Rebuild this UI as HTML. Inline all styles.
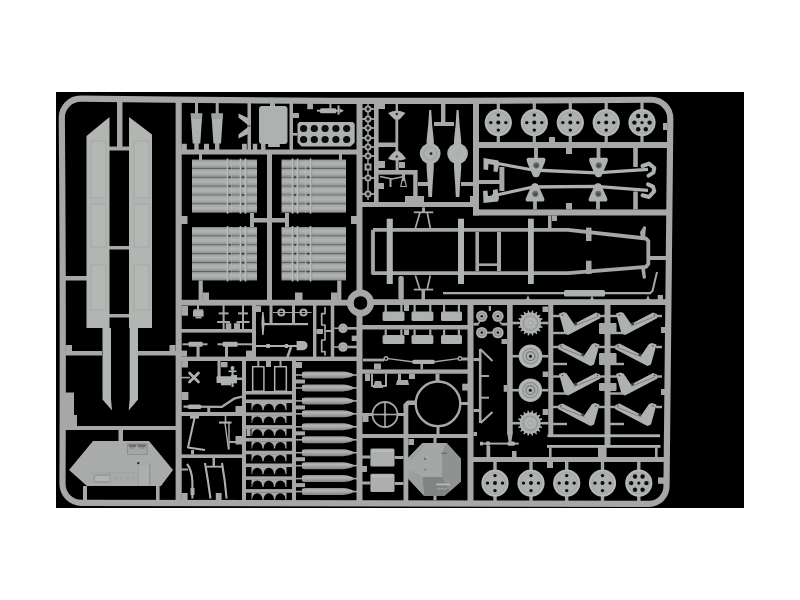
<!DOCTYPE html>
<html><head><meta charset="utf-8"><title>sprue</title>
<style>html,body{margin:0;padding:0;background:#fff;overflow:hidden}svg{display:block}</style>
</head><body>
<svg width="800" height="600" viewBox="0 0 800 600">
<defs>
<linearGradient id="tg" x1="0" y1="0" x2="0" y2="1">
<stop offset="0" stop-color="#7f8382"/><stop offset="0.18" stop-color="#a4a9a7"/><stop offset="0.42" stop-color="#b0b5b3"/><stop offset="0.66" stop-color="#a8adab"/><stop offset="0.88" stop-color="#929695"/><stop offset="1" stop-color="#7b7f7e"/>
</linearGradient>
<linearGradient id="sg0" gradientUnits="userSpaceOnUse" x1="0" y1="371.50" x2="0" y2="378.50"><stop offset="0" stop-color="#969898"/><stop offset="0.35" stop-color="#b4b6b6"/><stop offset="1" stop-color="#838585"/></linearGradient><linearGradient id="sg1" gradientUnits="userSpaceOnUse" x1="0" y1="384.45" x2="0" y2="391.45"><stop offset="0" stop-color="#969898"/><stop offset="0.35" stop-color="#b4b6b6"/><stop offset="1" stop-color="#838585"/></linearGradient><linearGradient id="sg2" gradientUnits="userSpaceOnUse" x1="0" y1="397.40" x2="0" y2="404.40"><stop offset="0" stop-color="#969898"/><stop offset="0.35" stop-color="#b4b6b6"/><stop offset="1" stop-color="#838585"/></linearGradient><linearGradient id="sg3" gradientUnits="userSpaceOnUse" x1="0" y1="410.35" x2="0" y2="417.35"><stop offset="0" stop-color="#969898"/><stop offset="0.35" stop-color="#b4b6b6"/><stop offset="1" stop-color="#838585"/></linearGradient><linearGradient id="sg4" gradientUnits="userSpaceOnUse" x1="0" y1="423.30" x2="0" y2="430.30"><stop offset="0" stop-color="#969898"/><stop offset="0.35" stop-color="#b4b6b6"/><stop offset="1" stop-color="#838585"/></linearGradient><linearGradient id="sg5" gradientUnits="userSpaceOnUse" x1="0" y1="436.25" x2="0" y2="443.25"><stop offset="0" stop-color="#969898"/><stop offset="0.35" stop-color="#b4b6b6"/><stop offset="1" stop-color="#838585"/></linearGradient><linearGradient id="sg6" gradientUnits="userSpaceOnUse" x1="0" y1="449.20" x2="0" y2="456.20"><stop offset="0" stop-color="#969898"/><stop offset="0.35" stop-color="#b4b6b6"/><stop offset="1" stop-color="#838585"/></linearGradient><linearGradient id="sg7" gradientUnits="userSpaceOnUse" x1="0" y1="462.15" x2="0" y2="469.15"><stop offset="0" stop-color="#969898"/><stop offset="0.35" stop-color="#b4b6b6"/><stop offset="1" stop-color="#838585"/></linearGradient><linearGradient id="sg8" gradientUnits="userSpaceOnUse" x1="0" y1="475.10" x2="0" y2="482.10"><stop offset="0" stop-color="#969898"/><stop offset="0.35" stop-color="#b4b6b6"/><stop offset="1" stop-color="#838585"/></linearGradient><linearGradient id="sg9" gradientUnits="userSpaceOnUse" x1="0" y1="488.05" x2="0" y2="495.05"><stop offset="0" stop-color="#969898"/><stop offset="0.35" stop-color="#b4b6b6"/><stop offset="1" stop-color="#838585"/></linearGradient>
<filter id="soft" x="-2%" y="-2%" width="104%" height="104%"><feGaussianBlur stdDeviation="0.65"/></filter>
</defs>
<rect x="0" y="0" width="800" height="600" fill="#fff"/>
<g filter="url(#soft)">
<rect x="56.00" y="92.00" width="688.00" height="416.00" fill="#000"/>
<path d="M61.8 117.7 A19 19 0 0 1 80.8 98.7 Q366 102.3 651 99.75 A19 19 0 0 1 670.3 119 L666.5 486 A17.5 17.5 0 0 1 649 503.8 L81.5 502.9 A19 19 0 0 1 62.5 484 Q63.3 300 61.8 117.7 Z" fill="none" stroke="#a6a8a7" stroke-width="6.2"/>
<rect x="175.60" y="100.00" width="6.10" height="402.00" fill="#a6a8a7"/>
<rect x="356.50" y="100.00" width="6.00" height="402.00" fill="#a6a8a7"/>
<rect x="473.00" y="100.00" width="6.00" height="115.50" fill="#a6a8a7"/>
<rect x="181.00" y="149.50" width="176.00" height="5.00" fill="#a6a8a7"/>
<rect x="181.00" y="299.80" width="167.00" height="5.80" fill="#a6a8a7"/>
<rect x="372.00" y="299.20" width="295.00" height="5.80" fill="#a6a8a7"/>
<rect x="479.00" y="142.00" width="188.00" height="6.00" fill="#a6a8a7"/>
<rect x="473.00" y="209.40" width="194.00" height="6.10" fill="#a6a8a7"/>
<rect x="362.00" y="202.00" width="112.00" height="5.00" fill="#a6a8a7"/>
<rect x="65.00" y="426.00" width="111.00" height="4.00" fill="#a6a8a7"/>
<rect x="267.00" y="154.00" width="5.00" height="146.00" fill="#a6a8a7"/>
<rect x="250.00" y="218.00" width="39.00" height="4.50" fill="#a6a8a7"/>
<rect x="467.50" y="305.00" width="6.00" height="197.00" fill="#a6a8a7"/>
<rect x="507.10" y="305.00" width="5.60" height="129.00" fill="#a6a8a7"/>
<rect x="548.30" y="305.00" width="5.00" height="132.00" fill="#a6a8a7"/>
<rect x="604.50" y="305.00" width="6.00" height="142.00" fill="#a6a8a7"/>
<rect x="473.00" y="457.00" width="194.00" height="5.00" fill="#a6a8a7"/>
<rect x="362.00" y="325.00" width="106.00" height="4.50" fill="#a6a8a7"/>
<rect x="362.00" y="369.40" width="106.00" height="4.35" fill="#a6a8a7"/>
<rect x="362.00" y="434.00" width="106.00" height="4.00" fill="#a6a8a7"/>
<rect x="403.50" y="404.00" width="4.80" height="98.00" fill="#a6a8a7"/>
<rect x="181.00" y="356.60" width="176.00" height="4.40" fill="#a6a8a7"/>
<rect x="181.00" y="329.00" width="71.00" height="3.60" fill="#a6a8a7"/>
<rect x="252.00" y="305.00" width="4.00" height="52.00" fill="#a6a8a7"/>
<rect x="313.00" y="305.00" width="3.40" height="52.00" fill="#a6a8a7"/>
<rect x="330.75" y="305.00" width="3.50" height="52.00" fill="#a6a8a7"/>
<rect x="242.00" y="361.00" width="4.00" height="141.00" fill="#a6a8a7"/>
<rect x="292.00" y="361.00" width="4.00" height="141.00" fill="#a6a8a7"/>
<rect x="181.00" y="412.00" width="61.00" height="4.00" fill="#a6a8a7"/>
<rect x="181.00" y="454.40" width="61.00" height="3.60" fill="#a6a8a7"/>
<rect x="246.00" y="391.00" width="46.00" height="3.50" fill="#a6a8a7"/>
<circle cx="360.50" cy="303.00" r="10.10" fill="none" stroke="#a6a8a7" stroke-width="6.8"/>
<rect x="117.00" y="102.00" width="5.50" height="46.00" fill="#a6a8a7"/>
<rect x="109.00" y="146.50" width="21.00" height="4.00" fill="#a6a8a7"/>
<rect x="109.00" y="246.00" width="21.00" height="3.50" fill="#a6a8a7"/>
<rect x="109.00" y="314.00" width="21.00" height="3.50" fill="#a6a8a7"/>
<rect x="65.00" y="276.00" width="22.00" height="4.50" fill="#a6a8a7"/>
<polygon points="86.50,136.00 109.50,117.00 109.50,328.00 111.00,328.00 111.00,399.00 112.00,410.50 102.50,399.50 102.50,328.00 86.50,328.00" fill="#b2b6b3"/>
<polygon points="129.00,117.00 152.00,134.50 152.00,328.00 138.00,328.00 138.00,399.50 128.70,410.50 129.70,399.00 129.70,328.00 129.00,328.00" fill="#b2b6b3"/>
<rect x="91" y="141" width="15" height="57" fill="#b4b8b5" stroke="#a3a7a5" stroke-width="0.9"/>
<rect x="134" y="141" width="15" height="57" fill="#b4b8b5" stroke="#a3a7a5" stroke-width="0.9"/>
<rect x="91" y="204" width="15" height="43" fill="#b4b8b5" stroke="#a3a7a5" stroke-width="0.9"/>
<rect x="134" y="204" width="15" height="43" fill="#b4b8b5" stroke="#a3a7a5" stroke-width="0.9"/>
<rect x="91" y="265" width="15" height="45" fill="#b4b8b5" stroke="#a3a7a5" stroke-width="0.9"/>
<rect x="134" y="265" width="15" height="45" fill="#b4b8b5" stroke="#a3a7a5" stroke-width="0.9"/>
<rect x="65.00" y="351.00" width="37.00" height="4.50" fill="#a6a8a7"/>
<rect x="65.50" y="345.00" width="6.50" height="6.00" fill="#a6a8a7"/>
<rect x="137.50" y="351.00" width="38.50" height="4.50" fill="#a6a8a7"/>
<rect x="169.50" y="345.00" width="6.00" height="6.00" fill="#a6a8a7"/>
<rect x="65.00" y="392.50" width="9.00" height="33.50" fill="#a6a8a7"/>
<rect x="65.00" y="415.00" width="12.00" height="11.00" fill="#a6a8a7"/>
<rect x="118.50" y="430.00" width="4.50" height="11.00" fill="#a6a8a7"/>
<rect x="83.00" y="486.00" width="4.00" height="14.00" fill="#a6a8a7"/>
<rect x="156.00" y="486.00" width="3.60" height="14.00" fill="#a6a8a7"/>
<polygon points="93.00,441.00 149.00,441.00 173.00,470.00 161.00,486.00 87.00,486.00 69.00,470.00" fill="#a8abaa"/>
<rect x="127.00" y="443.40" width="20.50" height="11.60" fill="#8a8c8c"/>
<rect x="128.00" y="446.00" width="18.50" height="8.30" fill="#a4a6a6"/>
<rect x="129.00" y="444.60" width="7.00" height="2.60" fill="#6e7070"/>
<rect x="138.00" y="444.60" width="7.50" height="2.60" fill="#6e7070"/>
<rect x="130.00" y="447.20" width="5.00" height="1.80" fill="#8e9090"/>
<rect x="139.00" y="447.20" width="5.50" height="1.80" fill="#8e9090"/>
<rect x="93.50" y="474.30" width="17.20" height="8.50" fill="#989a9a"/>
<rect x="95.00" y="476.00" width="14.50" height="5.00" fill="#b2b4b4"/>
<rect x="91.00" y="472.50" width="59.00" height="0.80" fill="#9ea0a0"/>
<circle cx="138.30" cy="463.20" r="1.10" fill="#1a1a1a"/>
<rect x="139.00" y="466.00" width="10.30" height="19.00" fill="#adafaf"/>
<rect x="149.30" y="463.00" width="1.00" height="22.00" fill="#8c8e8e"/>
<rect x="137.50" y="466.00" width="1.00" height="19.00" fill="#9d9f9f"/>
<rect x="114.00" y="476.00" width="3.50" height="4.50" fill="#a3a5a5"/>
<rect x="120.00" y="476.00" width="3.50" height="4.50" fill="#a3a5a5"/>
<rect x="126.00" y="476.00" width="3.50" height="4.50" fill="#a3a5a5"/>
<rect x="132.00" y="476.00" width="3.50" height="4.50" fill="#a3a5a5"/>
<rect x="195.00" y="102.00" width="3.00" height="13.00" fill="#a6a8a7"/>
<polygon points="190.70,113.50 202.30,113.50 200.30,143.50 192.70,143.50" fill="#adb1af"/>
<polygon points="190.70,113.50 202.30,113.50 201.90,119.00 191.10,119.00" fill="#9da1a0"/>
<rect x="215.70" y="102.00" width="3.00" height="13.00" fill="#a6a8a7"/>
<polygon points="211.40,113.50 223.00,113.50 221.00,143.50 213.40,143.50" fill="#adb1af"/>
<polygon points="211.40,113.50 223.00,113.50 222.60,119.00 211.80,119.00" fill="#9da1a0"/>
<rect x="181.50" y="143.80" width="5.30" height="6.20" fill="#a6a8a7"/>
<rect x="204.00" y="143.80" width="5.00" height="6.20" fill="#a6a8a7"/>
<rect x="242.00" y="143.80" width="4.80" height="6.20" fill="#a6a8a7"/>
<rect x="252.80" y="143.80" width="4.40" height="6.20" fill="#a6a8a7"/>
<rect x="261.00" y="143.80" width="4.50" height="6.20" fill="#a6a8a7"/>
<rect x="194.30" y="143.00" width="4.40" height="7.00" fill="#a6a8a7"/>
<rect x="215.00" y="143.00" width="4.40" height="7.00" fill="#a6a8a7"/>
<rect x="247.50" y="102.00" width="3.50" height="48.00" fill="#a6a8a7"/>
<polygon points="238.50,113.50 248.00,118.00 248.00,125.00 238.50,117.50" fill="#adb1af"/>
<polygon points="238.50,138.50 248.00,134.00 248.00,127.00 238.50,134.50" fill="#adb1af"/>
<circle cx="249.30" cy="125.80" r="0.90" fill="#333"/>
<rect x="259.00" y="106.00" width="28.50" height="38.00" fill="#adb1af" rx="3"/>
<rect x="268.00" y="144.00" width="12.00" height="3.00" fill="#adb1af" rx="1"/>
<rect x="270.00" y="102.00" width="5.00" height="4.00" fill="#a6a8a7"/>
<rect x="289.50" y="102.00" width="3.50" height="48.00" fill="#a6a8a7"/>
<polygon points="299.50,122.00 352.70,122.00 354.70,124.00 354.70,142.50 350.50,146.60 301.50,146.60 297.50,142.50 297.50,124.00" fill="#adb1af"/>
<circle cx="303.60" cy="128.50" r="3.60" fill="#0a0a0a"/>
<circle cx="303.60" cy="139.50" r="3.60" fill="#0a0a0a"/>
<circle cx="314.30" cy="128.50" r="3.60" fill="#0a0a0a"/>
<circle cx="314.30" cy="139.50" r="3.60" fill="#0a0a0a"/>
<circle cx="325.10" cy="128.50" r="3.60" fill="#0a0a0a"/>
<circle cx="325.10" cy="139.50" r="3.60" fill="#0a0a0a"/>
<circle cx="335.90" cy="128.50" r="3.60" fill="#0a0a0a"/>
<circle cx="335.90" cy="139.50" r="3.60" fill="#0a0a0a"/>
<circle cx="346.70" cy="128.50" r="3.60" fill="#0a0a0a"/>
<circle cx="346.70" cy="139.50" r="3.60" fill="#0a0a0a"/>
<rect x="293.00" y="133.00" width="4.50" height="2.60" fill="#a6a8a7"/>
<rect x="317.00" y="109.80" width="21.00" height="1.80" fill="#adb1af"/>
<rect x="320.00" y="108.20" width="16.40" height="5.00" fill="#adb1af" rx="1.5"/>
<rect x="337.50" y="105.50" width="2.10" height="9.10" fill="#adb1af"/>
<polygon points="339.60,108.50 344.00,110.70 339.60,113.00" fill="#adb1af"/>
<rect x="329.40" y="102.00" width="2.00" height="6.60" fill="#a6a8a7"/>
<rect x="307.30" y="103.00" width="5.70" height="6.20" fill="#a6a8a7"/>
<rect x="292.50" y="113.00" width="6.50" height="5.00" fill="#a6a8a7"/>
<rect x="192" y="159.50" width="65" height="8.87" fill="url(#tg)"/>
<rect x="192" y="168.37" width="65" height="8.87" fill="url(#tg)"/>
<rect x="192" y="177.23" width="65" height="8.87" fill="url(#tg)"/>
<rect x="192" y="186.10" width="65" height="8.87" fill="url(#tg)"/>
<rect x="192" y="194.97" width="65" height="8.87" fill="url(#tg)"/>
<rect x="192" y="203.83" width="65" height="8.87" fill="url(#tg)"/>
<rect x="226.70" y="158.5" width="1.6" height="55.19999999999999" fill="#b9bdbb" opacity="0.95"/>
<rect x="228.30" y="159.5" width="1" height="53.19999999999999" fill="#858988" opacity="0.55"/>
<rect x="239.70" y="158.5" width="1.6" height="55.19999999999999" fill="#b9bdbb" opacity="0.95"/>
<rect x="241.30" y="159.5" width="1" height="53.19999999999999" fill="#858988" opacity="0.55"/>
<rect x="244.70" y="158.5" width="1.6" height="55.19999999999999" fill="#b9bdbb" opacity="0.95"/>
<rect x="246.30" y="159.5" width="1" height="53.19999999999999" fill="#858988" opacity="0.55"/>
<rect x="230.50" y="159.5" width="1" height="53.19999999999999" fill="#b9bdbb" opacity="0.6"/>
<ellipse cx="229.50" cy="168.37" rx="1.3" ry="0.9" fill="#2c2e2d" opacity="0.8"/>
<ellipse cx="243.00" cy="168.37" rx="1.3" ry="0.9" fill="#2c2e2d" opacity="0.8"/>
<ellipse cx="229.50" cy="177.23" rx="1.3" ry="0.9" fill="#2c2e2d" opacity="0.8"/>
<ellipse cx="243.00" cy="177.23" rx="1.3" ry="0.9" fill="#2c2e2d" opacity="0.8"/>
<ellipse cx="229.50" cy="186.10" rx="1.3" ry="0.9" fill="#2c2e2d" opacity="0.8"/>
<ellipse cx="243.00" cy="186.10" rx="1.3" ry="0.9" fill="#2c2e2d" opacity="0.8"/>
<ellipse cx="229.50" cy="194.97" rx="1.3" ry="0.9" fill="#2c2e2d" opacity="0.8"/>
<ellipse cx="243.00" cy="194.97" rx="1.3" ry="0.9" fill="#2c2e2d" opacity="0.8"/>
<ellipse cx="229.50" cy="203.83" rx="1.3" ry="0.9" fill="#2c2e2d" opacity="0.8"/>
<ellipse cx="243.00" cy="203.83" rx="1.3" ry="0.9" fill="#2c2e2d" opacity="0.8"/>
<rect x="281.5" y="159.50" width="64.5" height="8.87" fill="url(#tg)"/>
<rect x="281.5" y="168.37" width="64.5" height="8.87" fill="url(#tg)"/>
<rect x="281.5" y="177.23" width="64.5" height="8.87" fill="url(#tg)"/>
<rect x="281.5" y="186.10" width="64.5" height="8.87" fill="url(#tg)"/>
<rect x="281.5" y="194.97" width="64.5" height="8.87" fill="url(#tg)"/>
<rect x="281.5" y="203.83" width="64.5" height="8.87" fill="url(#tg)"/>
<rect x="309.70" y="158.5" width="1.6" height="55.19999999999999" fill="#b9bdbb" opacity="0.95"/>
<rect x="311.30" y="159.5" width="1" height="53.19999999999999" fill="#858988" opacity="0.55"/>
<rect x="296.70" y="158.5" width="1.6" height="55.19999999999999" fill="#b9bdbb" opacity="0.95"/>
<rect x="298.30" y="159.5" width="1" height="53.19999999999999" fill="#858988" opacity="0.55"/>
<rect x="291.70" y="158.5" width="1.6" height="55.19999999999999" fill="#b9bdbb" opacity="0.95"/>
<rect x="293.30" y="159.5" width="1" height="53.19999999999999" fill="#858988" opacity="0.55"/>
<rect x="305.00" y="159.5" width="1" height="53.19999999999999" fill="#b9bdbb" opacity="0.6"/>
<ellipse cx="308.50" cy="168.37" rx="1.3" ry="0.9" fill="#2c2e2d" opacity="0.8"/>
<ellipse cx="295.00" cy="168.37" rx="1.3" ry="0.9" fill="#2c2e2d" opacity="0.8"/>
<ellipse cx="308.50" cy="177.23" rx="1.3" ry="0.9" fill="#2c2e2d" opacity="0.8"/>
<ellipse cx="295.00" cy="177.23" rx="1.3" ry="0.9" fill="#2c2e2d" opacity="0.8"/>
<ellipse cx="308.50" cy="186.10" rx="1.3" ry="0.9" fill="#2c2e2d" opacity="0.8"/>
<ellipse cx="295.00" cy="186.10" rx="1.3" ry="0.9" fill="#2c2e2d" opacity="0.8"/>
<ellipse cx="308.50" cy="194.97" rx="1.3" ry="0.9" fill="#2c2e2d" opacity="0.8"/>
<ellipse cx="295.00" cy="194.97" rx="1.3" ry="0.9" fill="#2c2e2d" opacity="0.8"/>
<ellipse cx="308.50" cy="203.83" rx="1.3" ry="0.9" fill="#2c2e2d" opacity="0.8"/>
<ellipse cx="295.00" cy="203.83" rx="1.3" ry="0.9" fill="#2c2e2d" opacity="0.8"/>
<rect x="192" y="227.00" width="65" height="8.92" fill="url(#tg)"/>
<rect x="192" y="235.92" width="65" height="8.92" fill="url(#tg)"/>
<rect x="192" y="244.83" width="65" height="8.92" fill="url(#tg)"/>
<rect x="192" y="253.75" width="65" height="8.92" fill="url(#tg)"/>
<rect x="192" y="262.67" width="65" height="8.92" fill="url(#tg)"/>
<rect x="192" y="271.58" width="65" height="8.92" fill="url(#tg)"/>
<rect x="226.70" y="226" width="1.6" height="55.5" fill="#b9bdbb" opacity="0.95"/>
<rect x="228.30" y="227" width="1" height="53.5" fill="#858988" opacity="0.55"/>
<rect x="239.70" y="226" width="1.6" height="55.5" fill="#b9bdbb" opacity="0.95"/>
<rect x="241.30" y="227" width="1" height="53.5" fill="#858988" opacity="0.55"/>
<rect x="244.70" y="226" width="1.6" height="55.5" fill="#b9bdbb" opacity="0.95"/>
<rect x="246.30" y="227" width="1" height="53.5" fill="#858988" opacity="0.55"/>
<rect x="230.50" y="227" width="1" height="53.5" fill="#b9bdbb" opacity="0.6"/>
<ellipse cx="229.50" cy="235.92" rx="1.3" ry="0.9" fill="#2c2e2d" opacity="0.8"/>
<ellipse cx="243.00" cy="235.92" rx="1.3" ry="0.9" fill="#2c2e2d" opacity="0.8"/>
<ellipse cx="229.50" cy="244.83" rx="1.3" ry="0.9" fill="#2c2e2d" opacity="0.8"/>
<ellipse cx="243.00" cy="244.83" rx="1.3" ry="0.9" fill="#2c2e2d" opacity="0.8"/>
<ellipse cx="229.50" cy="253.75" rx="1.3" ry="0.9" fill="#2c2e2d" opacity="0.8"/>
<ellipse cx="243.00" cy="253.75" rx="1.3" ry="0.9" fill="#2c2e2d" opacity="0.8"/>
<ellipse cx="229.50" cy="262.67" rx="1.3" ry="0.9" fill="#2c2e2d" opacity="0.8"/>
<ellipse cx="243.00" cy="262.67" rx="1.3" ry="0.9" fill="#2c2e2d" opacity="0.8"/>
<ellipse cx="229.50" cy="271.58" rx="1.3" ry="0.9" fill="#2c2e2d" opacity="0.8"/>
<ellipse cx="243.00" cy="271.58" rx="1.3" ry="0.9" fill="#2c2e2d" opacity="0.8"/>
<rect x="281.5" y="227.00" width="64.5" height="8.92" fill="url(#tg)"/>
<rect x="281.5" y="235.92" width="64.5" height="8.92" fill="url(#tg)"/>
<rect x="281.5" y="244.83" width="64.5" height="8.92" fill="url(#tg)"/>
<rect x="281.5" y="253.75" width="64.5" height="8.92" fill="url(#tg)"/>
<rect x="281.5" y="262.67" width="64.5" height="8.92" fill="url(#tg)"/>
<rect x="281.5" y="271.58" width="64.5" height="8.92" fill="url(#tg)"/>
<rect x="309.70" y="226" width="1.6" height="55.5" fill="#b9bdbb" opacity="0.95"/>
<rect x="311.30" y="227" width="1" height="53.5" fill="#858988" opacity="0.55"/>
<rect x="296.70" y="226" width="1.6" height="55.5" fill="#b9bdbb" opacity="0.95"/>
<rect x="298.30" y="227" width="1" height="53.5" fill="#858988" opacity="0.55"/>
<rect x="291.70" y="226" width="1.6" height="55.5" fill="#b9bdbb" opacity="0.95"/>
<rect x="293.30" y="227" width="1" height="53.5" fill="#858988" opacity="0.55"/>
<rect x="305.00" y="227" width="1" height="53.5" fill="#b9bdbb" opacity="0.6"/>
<ellipse cx="308.50" cy="235.92" rx="1.3" ry="0.9" fill="#2c2e2d" opacity="0.8"/>
<ellipse cx="295.00" cy="235.92" rx="1.3" ry="0.9" fill="#2c2e2d" opacity="0.8"/>
<ellipse cx="308.50" cy="244.83" rx="1.3" ry="0.9" fill="#2c2e2d" opacity="0.8"/>
<ellipse cx="295.00" cy="244.83" rx="1.3" ry="0.9" fill="#2c2e2d" opacity="0.8"/>
<ellipse cx="308.50" cy="253.75" rx="1.3" ry="0.9" fill="#2c2e2d" opacity="0.8"/>
<ellipse cx="295.00" cy="253.75" rx="1.3" ry="0.9" fill="#2c2e2d" opacity="0.8"/>
<ellipse cx="308.50" cy="262.67" rx="1.3" ry="0.9" fill="#2c2e2d" opacity="0.8"/>
<ellipse cx="295.00" cy="262.67" rx="1.3" ry="0.9" fill="#2c2e2d" opacity="0.8"/>
<ellipse cx="308.50" cy="271.58" rx="1.3" ry="0.9" fill="#2c2e2d" opacity="0.8"/>
<ellipse cx="295.00" cy="271.58" rx="1.3" ry="0.9" fill="#2c2e2d" opacity="0.8"/>
<rect x="181.00" y="216.00" width="6.50" height="8.00" fill="#a6a8a7"/>
<rect x="351.00" y="216.00" width="6.00" height="8.00" fill="#a6a8a7"/>
<rect x="198.60" y="280.50" width="4.20" height="19.50" fill="#a6a8a7"/>
<rect x="337.20" y="280.50" width="4.20" height="19.50" fill="#a6a8a7"/>
<rect x="202.50" y="292.50" width="6.50" height="7.50" fill="#a6a8a7"/>
<rect x="295.00" y="292.50" width="7.50" height="7.50" fill="#a6a8a7"/>
<rect x="331.00" y="292.50" width="6.50" height="7.50" fill="#a6a8a7"/>
<rect x="199.00" y="154.00" width="3.00" height="6.00" fill="#a6a8a7"/>
<rect x="339.00" y="154.00" width="3.00" height="6.00" fill="#a6a8a7"/>
<rect x="250.00" y="213.00" width="4.00" height="14.00" fill="#a6a8a7"/>
<rect x="285.00" y="213.00" width="4.00" height="14.00" fill="#a6a8a7"/>
<circle cx="360.50" cy="303.00" r="6.70" fill="#000"/>
<rect x="367.30" y="104.00" width="1.40" height="96.00" fill="#a6a8a7"/>
<rect x="362.00" y="108.10" width="13.00" height="1.80" fill="#a6a8a7"/>
<circle cx="368.00" cy="109.00" r="3.50" fill="#a6a8a7"/>
<circle cx="368.00" cy="109.00" r="1.70" fill="#1a1a1a"/>
<rect x="362.00" y="118.10" width="13.00" height="1.80" fill="#a6a8a7"/>
<circle cx="368.00" cy="119.00" r="3.50" fill="#a6a8a7"/>
<circle cx="368.00" cy="119.00" r="1.70" fill="#1a1a1a"/>
<rect x="362.00" y="127.10" width="13.00" height="1.80" fill="#a6a8a7"/>
<circle cx="368.00" cy="128.00" r="3.50" fill="#a6a8a7"/>
<circle cx="368.00" cy="128.00" r="1.70" fill="#1a1a1a"/>
<rect x="362.00" y="137.10" width="13.00" height="1.80" fill="#a6a8a7"/>
<circle cx="368.00" cy="138.00" r="3.50" fill="#a6a8a7"/>
<circle cx="368.00" cy="138.00" r="1.70" fill="#1a1a1a"/>
<rect x="362.00" y="146.10" width="13.00" height="1.80" fill="#a6a8a7"/>
<circle cx="368.00" cy="147.00" r="3.50" fill="#a6a8a7"/>
<circle cx="368.00" cy="147.00" r="1.70" fill="#1a1a1a"/>
<rect x="362.00" y="155.10" width="13.00" height="1.80" fill="#a6a8a7"/>
<circle cx="368.00" cy="156.00" r="3.50" fill="#a6a8a7"/>
<circle cx="368.00" cy="156.00" r="1.70" fill="#1a1a1a"/>
<rect x="362.00" y="177.10" width="13.00" height="1.80" fill="#a6a8a7"/>
<circle cx="368.00" cy="178.00" r="3.50" fill="#a6a8a7"/>
<circle cx="368.00" cy="178.00" r="1.70" fill="#1a1a1a"/>
<rect x="362.00" y="193.10" width="13.00" height="1.80" fill="#a6a8a7"/>
<circle cx="368.00" cy="194.00" r="3.50" fill="#a6a8a7"/>
<circle cx="368.00" cy="194.00" r="1.70" fill="#1a1a1a"/>
<rect x="364.50" y="163.50" width="7.00" height="7.00" fill="#a6a8a7"/>
<rect x="366.60" y="165.40" width="3.00" height="3.20" fill="#111"/>
<rect x="374.00" y="102.00" width="4.60" height="103.00" fill="#a6a8a7"/>
<rect x="378.00" y="104.00" width="7.00" height="5.00" fill="#a6a8a7"/>
<rect x="378.00" y="183.00" width="6.00" height="6.00" fill="#a6a8a7"/>
<path d="M388 113 Q397 108.5 405.5 113 L399.5 119.5 H394.5 Z" fill="#adb1af"/>
<circle cx="396.80" cy="114.00" r="1.20" fill="#222"/>
<rect x="395.60" y="102.00" width="2.40" height="9.00" fill="#a6a8a7"/>
<rect x="395.40" y="119.00" width="2.80" height="33.00" fill="#a6a8a7"/>
<path d="M397 150.5 Q402 152 406 159 Q397 162 388 159 Q392 152 397 150.5 Z" fill="#adb1af"/>
<circle cx="396.80" cy="156.50" r="1.20" fill="#333"/>
<rect x="378.00" y="142.50" width="18.00" height="4.50" fill="#a6a8a7"/>
<rect x="378.00" y="170.00" width="39.00" height="4.60" fill="#a6a8a7"/>
<rect x="413.20" y="170.00" width="4.40" height="33.00" fill="#a6a8a7"/>
<rect x="395.60" y="160.00" width="3.00" height="10.00" fill="#a6a8a7"/>
<rect x="378.00" y="161.00" width="7.00" height="7.00" fill="#a6a8a7"/>
<rect x="399.00" y="162.00" width="6.00" height="6.00" fill="#a6a8a7"/>
<polyline points="380.00,176.50 392.00,179.00 404.00,176.50" fill="none" stroke="#a6a8a7" stroke-width="1.6" stroke-linecap="butt" stroke-linejoin="round"/>
<rect x="389.50" y="178.00" width="2.00" height="9.00" fill="#a6a8a7"/>
<polygon points="402.00,178.00 405.00,178.00 407.00,187.00 400.00,187.00" fill="#a6a8a7"/>
<polygon points="402.60,181.00 404.40,181.00 405.60,186.00 401.40,186.00" fill="#000"/>
<rect x="402.00" y="174.00" width="3.00" height="4.00" fill="#a6a8a7"/>
<polygon points="429.20,110.00 431.20,110.00 432.20,125.00 433.80,140.00 433.80,168.00 432.60,185.00 432.00,197.00 428.40,197.00 427.80,185.00 426.60,168.00 426.60,140.00 428.20,125.00" fill="#adb1af"/>
<ellipse cx="430.2" cy="153.6" rx="10.4" ry="10.4" fill="#adb1af"/>
<polygon points="456.60,110.00 458.60,110.00 459.60,125.00 461.20,140.00 461.20,168.00 460.00,185.00 459.40,197.00 455.80,197.00 455.20,185.00 454.00,168.00 454.00,140.00 455.60,125.00" fill="#adb1af"/>
<ellipse cx="457.6" cy="153.6" rx="10.4" ry="10.4" fill="#adb1af"/>
<circle cx="431.00" cy="153.60" r="1.40" fill="#222"/>
<circle cx="430.20" cy="153.60" r="6.50" fill="none" stroke="#999d9b" stroke-width="0.9"/>
<circle cx="457.60" cy="153.60" r="6.50" fill="none" stroke="#b8bcba" stroke-width="0.9"/>
<rect x="441.00" y="102.00" width="4.40" height="21.00" fill="#a6a8a7"/>
<rect x="434.00" y="122.00" width="20.00" height="4.00" fill="#a6a8a7"/>
<rect x="418.00" y="182.00" width="10.00" height="4.00" fill="#a6a8a7"/>
<rect x="461.00" y="182.00" width="14.00" height="4.00" fill="#a6a8a7"/>
<rect x="362.00" y="202.00" width="112.00" height="5.00" fill="#a6a8a7"/>
<rect x="405.00" y="196.00" width="19.00" height="7.00" fill="#a6a8a7"/>
<rect x="470.00" y="196.00" width="6.00" height="7.00" fill="#a6a8a7"/>
<rect x="496.70" y="102.00" width="3.20" height="8.00" fill="#a6a8a7"/>
<rect x="496.70" y="135.00" width="3.20" height="8.00" fill="#a6a8a7"/>
<circle cx="498.30" cy="122.60" r="13.60" fill="#adb1af"/>
<circle cx="498.30" cy="122.60" r="10.60" fill="none" stroke="#9fa3a1" stroke-width="0.8"/>
<circle cx="498.30" cy="122.60" r="12.70" fill="none" stroke="#b9bdbb" stroke-width="1"/>
<circle cx="498.30" cy="115.10" r="1.70" fill="#0c0c0c"/>
<circle cx="498.30" cy="130.10" r="1.70" fill="#0c0c0c"/>
<circle cx="490.80" cy="122.60" r="1.70" fill="#0c0c0c"/>
<circle cx="505.80" cy="122.60" r="1.70" fill="#0c0c0c"/>
<circle cx="498.30" cy="122.60" r="2.00" fill="#0c0c0c"/>
<rect x="532.70" y="102.00" width="3.20" height="8.00" fill="#a6a8a7"/>
<rect x="532.70" y="135.00" width="3.20" height="8.00" fill="#a6a8a7"/>
<circle cx="534.30" cy="122.60" r="13.60" fill="#adb1af"/>
<circle cx="534.30" cy="122.60" r="10.60" fill="none" stroke="#9fa3a1" stroke-width="0.8"/>
<circle cx="534.30" cy="122.60" r="12.70" fill="none" stroke="#b9bdbb" stroke-width="1"/>
<circle cx="534.30" cy="115.10" r="1.70" fill="#0c0c0c"/>
<circle cx="534.30" cy="130.10" r="1.70" fill="#0c0c0c"/>
<circle cx="526.80" cy="122.60" r="1.70" fill="#0c0c0c"/>
<circle cx="541.80" cy="122.60" r="1.70" fill="#0c0c0c"/>
<circle cx="534.30" cy="122.60" r="2.00" fill="#0c0c0c"/>
<rect x="568.70" y="102.00" width="3.20" height="8.00" fill="#a6a8a7"/>
<rect x="568.70" y="135.00" width="3.20" height="8.00" fill="#a6a8a7"/>
<circle cx="570.30" cy="122.60" r="13.60" fill="#adb1af"/>
<circle cx="570.30" cy="122.60" r="10.60" fill="none" stroke="#9fa3a1" stroke-width="0.8"/>
<circle cx="570.30" cy="122.60" r="12.70" fill="none" stroke="#b9bdbb" stroke-width="1"/>
<circle cx="570.30" cy="115.10" r="1.70" fill="#0c0c0c"/>
<circle cx="570.30" cy="130.10" r="1.70" fill="#0c0c0c"/>
<circle cx="562.80" cy="122.60" r="1.70" fill="#0c0c0c"/>
<circle cx="577.80" cy="122.60" r="1.70" fill="#0c0c0c"/>
<circle cx="570.30" cy="122.60" r="2.00" fill="#0c0c0c"/>
<rect x="604.60" y="102.00" width="3.20" height="8.00" fill="#a6a8a7"/>
<rect x="604.60" y="135.00" width="3.20" height="8.00" fill="#a6a8a7"/>
<circle cx="606.20" cy="122.60" r="13.60" fill="#adb1af"/>
<circle cx="606.20" cy="122.60" r="10.60" fill="none" stroke="#9fa3a1" stroke-width="0.8"/>
<circle cx="606.20" cy="122.60" r="12.70" fill="none" stroke="#b9bdbb" stroke-width="1"/>
<circle cx="606.20" cy="115.10" r="1.70" fill="#0c0c0c"/>
<circle cx="606.20" cy="130.10" r="1.70" fill="#0c0c0c"/>
<circle cx="598.70" cy="122.60" r="1.70" fill="#0c0c0c"/>
<circle cx="613.70" cy="122.60" r="1.70" fill="#0c0c0c"/>
<circle cx="606.20" cy="122.60" r="2.00" fill="#0c0c0c"/>
<rect x="640.40" y="102.00" width="3.20" height="8.00" fill="#a6a8a7"/>
<rect x="640.40" y="135.00" width="3.20" height="8.00" fill="#a6a8a7"/>
<circle cx="642.00" cy="122.60" r="13.60" fill="#adb1af"/>
<circle cx="642.00" cy="122.60" r="10.60" fill="none" stroke="#9fa3a1" stroke-width="0.8"/>
<circle cx="642.00" cy="122.60" r="12.70" fill="none" stroke="#b9bdbb" stroke-width="1"/>
<circle cx="649.60" cy="122.60" r="2.20" fill="#111"/>
<circle cx="645.80" cy="129.18" r="2.20" fill="#111"/>
<circle cx="638.20" cy="129.18" r="2.20" fill="#111"/>
<circle cx="634.40" cy="122.60" r="2.20" fill="#111"/>
<circle cx="638.20" cy="116.02" r="2.20" fill="#111"/>
<circle cx="645.80" cy="116.02" r="2.20" fill="#111"/>
<circle cx="642.00" cy="122.60" r="1.60" fill="#111"/>
<rect x="493.30" y="461.00" width="3.40" height="10.00" fill="#a6a8a7"/>
<rect x="493.30" y="496.00" width="3.40" height="5.50" fill="#a6a8a7"/>
<circle cx="495.00" cy="483.10" r="13.60" fill="#adb1af"/>
<circle cx="495.00" cy="483.10" r="10.60" fill="none" stroke="#9fa3a1" stroke-width="0.8"/>
<circle cx="495.00" cy="483.10" r="12.70" fill="none" stroke="#b9bdbb" stroke-width="1"/>
<circle cx="495.00" cy="475.60" r="1.70" fill="#0c0c0c"/>
<circle cx="495.00" cy="490.60" r="1.70" fill="#0c0c0c"/>
<circle cx="487.50" cy="483.10" r="1.70" fill="#0c0c0c"/>
<circle cx="502.50" cy="483.10" r="1.70" fill="#0c0c0c"/>
<circle cx="495.00" cy="483.10" r="2.00" fill="#0c0c0c"/>
<rect x="529.30" y="461.00" width="3.40" height="10.00" fill="#a6a8a7"/>
<rect x="529.30" y="496.00" width="3.40" height="5.50" fill="#a6a8a7"/>
<circle cx="531.00" cy="483.10" r="13.60" fill="#adb1af"/>
<circle cx="531.00" cy="483.10" r="10.60" fill="none" stroke="#9fa3a1" stroke-width="0.8"/>
<circle cx="531.00" cy="483.10" r="12.70" fill="none" stroke="#b9bdbb" stroke-width="1"/>
<circle cx="531.00" cy="475.60" r="1.70" fill="#0c0c0c"/>
<circle cx="531.00" cy="490.60" r="1.70" fill="#0c0c0c"/>
<circle cx="523.50" cy="483.10" r="1.70" fill="#0c0c0c"/>
<circle cx="538.50" cy="483.10" r="1.70" fill="#0c0c0c"/>
<circle cx="531.00" cy="483.10" r="2.00" fill="#0c0c0c"/>
<rect x="565.00" y="461.00" width="3.40" height="10.00" fill="#a6a8a7"/>
<rect x="565.00" y="496.00" width="3.40" height="5.50" fill="#a6a8a7"/>
<circle cx="566.70" cy="483.10" r="13.60" fill="#adb1af"/>
<circle cx="566.70" cy="483.10" r="10.60" fill="none" stroke="#9fa3a1" stroke-width="0.8"/>
<circle cx="566.70" cy="483.10" r="12.70" fill="none" stroke="#b9bdbb" stroke-width="1"/>
<circle cx="566.70" cy="475.60" r="1.70" fill="#0c0c0c"/>
<circle cx="566.70" cy="490.60" r="1.70" fill="#0c0c0c"/>
<circle cx="559.20" cy="483.10" r="1.70" fill="#0c0c0c"/>
<circle cx="574.20" cy="483.10" r="1.70" fill="#0c0c0c"/>
<circle cx="566.70" cy="483.10" r="2.00" fill="#0c0c0c"/>
<rect x="600.80" y="461.00" width="3.40" height="10.00" fill="#a6a8a7"/>
<rect x="600.80" y="496.00" width="3.40" height="5.50" fill="#a6a8a7"/>
<circle cx="602.50" cy="483.10" r="13.60" fill="#adb1af"/>
<circle cx="602.50" cy="483.10" r="10.60" fill="none" stroke="#9fa3a1" stroke-width="0.8"/>
<circle cx="602.50" cy="483.10" r="12.70" fill="none" stroke="#b9bdbb" stroke-width="1"/>
<circle cx="602.50" cy="475.60" r="1.70" fill="#0c0c0c"/>
<circle cx="602.50" cy="490.60" r="1.70" fill="#0c0c0c"/>
<circle cx="595.00" cy="483.10" r="1.70" fill="#0c0c0c"/>
<circle cx="610.00" cy="483.10" r="1.70" fill="#0c0c0c"/>
<circle cx="602.50" cy="483.10" r="2.00" fill="#0c0c0c"/>
<rect x="637.10" y="461.00" width="3.40" height="10.00" fill="#a6a8a7"/>
<rect x="637.10" y="496.00" width="3.40" height="5.50" fill="#a6a8a7"/>
<circle cx="638.80" cy="483.10" r="13.60" fill="#adb1af"/>
<circle cx="638.80" cy="483.10" r="10.60" fill="none" stroke="#9fa3a1" stroke-width="0.8"/>
<circle cx="638.80" cy="483.10" r="12.70" fill="none" stroke="#b9bdbb" stroke-width="1"/>
<circle cx="646.40" cy="483.10" r="2.20" fill="#111"/>
<circle cx="642.60" cy="489.68" r="2.20" fill="#111"/>
<circle cx="635.00" cy="489.68" r="2.20" fill="#111"/>
<circle cx="631.20" cy="483.10" r="2.20" fill="#111"/>
<circle cx="635.00" cy="476.52" r="2.20" fill="#111"/>
<circle cx="642.60" cy="476.52" r="2.20" fill="#111"/>
<circle cx="638.80" cy="483.10" r="1.60" fill="#111"/>
<rect x="549.00" y="137.00" width="6.00" height="5.00" fill="#a6a8a7"/>
<rect x="663.00" y="123.00" width="4.00" height="7.00" fill="#a6a8a7"/>
<rect x="547.00" y="462.00" width="6.00" height="6.00" fill="#a6a8a7"/>
<rect x="658.00" y="477.40" width="6.00" height="6.40" fill="#a6a8a7"/>
<polyline points="492.00,162.50 533.00,170.00 596.00,172.80 648.00,169.30" fill="none" stroke="#adb1af" stroke-width="3.3" stroke-linecap="butt" stroke-linejoin="round"/>
<polyline points="492.00,196.00 533.00,187.00 596.00,186.40 648.00,190.30" fill="none" stroke="#adb1af" stroke-width="3.3" stroke-linecap="butt" stroke-linejoin="round"/>
<rect x="534.10" y="148.00" width="3.80" height="11.00" fill="#a6a8a7"/>
<polygon points="527.50,157.80 544.50,157.80 545.50,159.50 545.00,162.00 538.80,176.50 536.00,177.50 533.20,176.50 527.00,162.00 526.50,159.50" fill="#adb1af"/>
<circle cx="536.30" cy="165.30" r="3.10" fill="#6a6e6c"/>
<circle cx="536.30" cy="165.80" r="1.80" fill="#4a4d4c"/>
<rect x="596.60" y="148.00" width="3.80" height="11.00" fill="#a6a8a7"/>
<polygon points="590.00,157.80 607.00,157.80 608.00,159.50 607.50,162.00 601.30,176.50 598.50,177.50 595.70,176.50 589.50,162.00 589.00,159.50" fill="#adb1af"/>
<circle cx="598.80" cy="165.30" r="3.10" fill="#6a6e6c"/>
<circle cx="598.80" cy="165.80" r="1.80" fill="#4a4d4c"/>
<rect x="533.10" y="200.00" width="3.80" height="9.40" fill="#a6a8a7"/>
<polygon points="535.00,183.00 537.80,184.00 544.00,198.00 544.50,200.00 543.50,201.60 526.50,201.60 525.50,200.00 526.00,198.00 532.20,184.00" fill="#adb1af"/>
<circle cx="535.30" cy="193.80" r="3.10" fill="#6a6e6c"/>
<circle cx="535.30" cy="194.30" r="1.80" fill="#4a4d4c"/>
<rect x="596.10" y="200.00" width="3.80" height="9.40" fill="#a6a8a7"/>
<polygon points="598.00,183.00 600.80,184.00 607.00,198.00 607.50,200.00 606.50,201.60 589.50,201.60 588.50,200.00 589.00,198.00 595.20,184.00" fill="#adb1af"/>
<circle cx="598.30" cy="193.80" r="3.10" fill="#6a6e6c"/>
<circle cx="598.30" cy="194.30" r="1.80" fill="#4a4d4c"/>
<rect x="499.40" y="167.00" width="5.00" height="24.00" fill="#a6a8a7"/>
<rect x="479.00" y="180.00" width="21.00" height="4.00" fill="#a6a8a7"/>
<polygon points="483.50,158.00 498.50,160.50 499.00,165.00 497.50,172.00 493.50,171.50 493.80,165.00 488.50,164.00 488.00,170.00 483.50,169.50" fill="#adb1af"/>
<polygon points="483.00,191.00 487.50,190.50 488.00,196.00 493.00,195.50 493.00,190.00 497.50,189.00 499.00,198.00 498.00,201.50 483.50,203.00" fill="#adb1af"/>
<polyline points="642.50,166.00 649.00,163.60 654.30,168.00 653.40,172.60 648.50,175.60" fill="none" stroke="#adb1af" stroke-width="4" stroke-linecap="round" stroke-linejoin="round"/>
<polyline points="642.50,195.20 649.00,197.00 654.30,191.20 653.00,186.60 648.00,184.40" fill="none" stroke="#adb1af" stroke-width="4" stroke-linecap="round" stroke-linejoin="round"/>
<rect x="633.20" y="148.00" width="4.60" height="19.00" fill="#a6a8a7"/>
<rect x="633.20" y="191.50" width="4.60" height="17.90" fill="#a6a8a7"/>
<rect x="566.00" y="148.00" width="6.00" height="6.00" fill="#a6a8a7"/>
<rect x="566.00" y="203.00" width="6.00" height="6.40" fill="#a6a8a7"/>
<polyline points="371.00,275.50 371.00,227.60" fill="none" stroke="#a6a8a7" stroke-width="0.1" stroke-linecap="butt" stroke-linejoin="round"/>
<polyline points="373.00,229.80 568.00,229.80 646.00,238.50 648.30,241.00 648.30,264.00 646.00,266.80 568.00,273.20 373.00,273.20 373.00,229.80" fill="none" stroke="#a3a7a5" stroke-width="3.8" stroke-linecap="butt" stroke-linejoin="round"/>
<rect x="386.70" y="218.70" width="6.10" height="65.30" fill="#afb3b1"/>
<rect x="458.00" y="218.70" width="6.00" height="65.30" fill="#afb3b1"/>
<rect x="528.00" y="218.70" width="5.80" height="65.30" fill="#afb3b1"/>
<rect x="475.40" y="232.00" width="3.60" height="39.00" fill="#a3a7a5"/>
<rect x="497.00" y="232.00" width="4.00" height="39.00" fill="#a3a7a5"/>
<rect x="479.00" y="263.40" width="18.00" height="2.60" fill="#a3a7a5"/>
<rect x="586.00" y="227.60" width="5.50" height="13.40" fill="#a3a7a5"/>
<rect x="586.00" y="260.70" width="5.50" height="13.30" fill="#a3a7a5"/>
<rect x="548.00" y="215.50" width="3.50" height="12.50" fill="#a6a8a7"/>
<rect x="552.00" y="215.50" width="5.00" height="5.50" fill="#a6a8a7"/>
<rect x="650.00" y="256.00" width="16.00" height="4.00" fill="#a6a8a7"/>
<polygon points="640.00,232.00 644.00,226.00 646.00,227.00 645.00,238.00 641.00,238.00" fill="#a3a7a5"/>
<polygon points="641.00,268.00 645.00,268.00 646.00,278.00 643.00,279.00" fill="#a3a7a5"/>
<polyline points="413.80,212.30 433.20,212.30" fill="none" stroke="#a6a8a7" stroke-width="1.8" stroke-linecap="butt" stroke-linejoin="round"/>
<polyline points="420.00,212.50 415.40,228.00" fill="none" stroke="#a6a8a7" stroke-width="1.7" stroke-linecap="butt" stroke-linejoin="round"/>
<polyline points="427.20,212.50 430.30,228.00" fill="none" stroke="#a6a8a7" stroke-width="1.7" stroke-linecap="butt" stroke-linejoin="round"/>
<polyline points="413.80,289.60 433.20,289.60" fill="none" stroke="#a6a8a7" stroke-width="1.8" stroke-linecap="butt" stroke-linejoin="round"/>
<polyline points="415.40,275.50 419.80,289.30" fill="none" stroke="#a6a8a7" stroke-width="1.7" stroke-linecap="butt" stroke-linejoin="round"/>
<polyline points="430.30,275.50 427.20,289.30" fill="none" stroke="#a6a8a7" stroke-width="1.7" stroke-linecap="butt" stroke-linejoin="round"/>
<rect x="422.00" y="207.40" width="3.00" height="4.60" fill="#a6a8a7"/>
<rect x="421.50" y="289.50" width="3.50" height="10.50" fill="#a6a8a7"/>
<rect x="398.40" y="276.00" width="5.40" height="24.00" fill="#a6a8a7" rx="2"/>
<rect x="443.00" y="292.00" width="208.00" height="2.30" fill="#a6a8a7"/>
<rect x="564.00" y="290.00" width="41.00" height="6.40" fill="#adb1af" rx="1.5"/>
<polyline points="650.00,293.20 652.50,291.00 657.00,272.00" fill="none" stroke="#a6a8a7" stroke-width="2" stroke-linecap="butt" stroke-linejoin="round"/>
<polygon points="526.00,300.00 530.00,300.00 528.00,295.00" fill="#a6a8a7"/>
<polygon points="590.00,300.00 594.00,300.00 592.00,295.00" fill="#a6a8a7"/>
<polygon points="646.00,300.00 650.00,300.00 648.00,295.00" fill="#a6a8a7"/>
<rect x="657.70" y="295.00" width="5.30" height="5.00" fill="#a6a8a7"/>
<rect x="382.60" y="311.60" width="21.90" height="9.40" fill="#adb1af" rx="1.5"/>
<rect x="384.60" y="305.00" width="2.20" height="7.60" fill="#a6a8a7"/>
<rect x="400.30" y="305.00" width="2.20" height="7.60" fill="#a6a8a7"/>
<rect x="411.50" y="311.60" width="21.90" height="9.40" fill="#adb1af" rx="1.5"/>
<rect x="413.50" y="305.00" width="2.20" height="7.60" fill="#a6a8a7"/>
<rect x="429.20" y="305.00" width="2.20" height="7.60" fill="#a6a8a7"/>
<rect x="441.00" y="311.60" width="21.00" height="9.40" fill="#adb1af" rx="1.5"/>
<rect x="443.00" y="305.00" width="2.20" height="7.60" fill="#a6a8a7"/>
<rect x="457.80" y="305.00" width="2.20" height="7.60" fill="#a6a8a7"/>
<rect x="382.60" y="335.00" width="21.90" height="9.00" fill="#adb1af" rx="1.5"/>
<rect x="384.60" y="329.50" width="2.20" height="6.50" fill="#a6a8a7"/>
<rect x="400.30" y="329.50" width="2.20" height="6.50" fill="#a6a8a7"/>
<rect x="411.50" y="335.00" width="21.90" height="9.00" fill="#adb1af" rx="1.5"/>
<rect x="413.50" y="329.50" width="2.20" height="6.50" fill="#a6a8a7"/>
<rect x="429.20" y="329.50" width="2.20" height="6.50" fill="#a6a8a7"/>
<rect x="441.00" y="335.00" width="21.00" height="9.00" fill="#adb1af" rx="1.5"/>
<rect x="443.00" y="329.50" width="2.20" height="6.50" fill="#a6a8a7"/>
<rect x="457.80" y="329.50" width="2.20" height="6.50" fill="#a6a8a7"/>
<rect x="404.00" y="305.00" width="5.00" height="6.00" fill="#a6a8a7"/>
<rect x="404.00" y="329.50" width="5.00" height="5.50" fill="#a6a8a7"/>
<rect x="363.00" y="358.60" width="21.00" height="2.80" fill="#a6a8a7"/>
<circle cx="386.00" cy="358.60" r="1.80" fill="none" stroke="#a6a8a7" stroke-width="1.4"/>
<circle cx="460.00" cy="358.60" r="1.80" fill="none" stroke="#a6a8a7" stroke-width="1.4"/>
<polyline points="388.00,358.60 412.00,361.80" fill="none" stroke="#a6a8a7" stroke-width="1.4" stroke-linecap="butt" stroke-linejoin="round"/>
<polyline points="435.00,361.80 458.00,358.60" fill="none" stroke="#a6a8a7" stroke-width="1.4" stroke-linecap="butt" stroke-linejoin="round"/>
<rect x="412.00" y="359.80" width="23.00" height="4.20" fill="#adb1af" rx="2"/>
<rect x="462.00" y="357.50" width="6.00" height="3.00" fill="#a6a8a7"/>
<rect x="420.50" y="363.00" width="2.50" height="6.40" fill="#a6a8a7"/>
<rect x="374.00" y="363.50" width="7.00" height="5.90" fill="#a6a8a7"/>
<rect x="365.00" y="373.70" width="5.00" height="7.30" fill="#a6a8a7"/>
<polyline points="372.00,373.70 372.00,386.00 386.00,386.00 386.00,373.70" fill="none" stroke="#a6a8a7" stroke-width="2" stroke-linecap="butt" stroke-linejoin="round"/>
<polygon points="375.00,381.00 381.00,381.00 383.00,388.00 373.00,388.00" fill="#a6a8a7"/>
<rect x="398.00" y="373.70" width="3.00" height="7.30" fill="#a6a8a7"/>
<rect x="409.00" y="373.70" width="6.00" height="5.30" fill="#a6a8a7"/>
<polygon points="397.00,380.00 408.00,380.00 409.00,385.00 396.00,385.00" fill="#a6a8a7"/>
<rect x="435.50" y="373.70" width="4.00" height="7.30" fill="#a6a8a7"/>
<circle cx="438.00" cy="403.80" r="22.30" fill="none" stroke="#a6a8a7" stroke-width="2.4"/>
<rect x="436.50" y="426.00" width="3.00" height="8.00" fill="#a6a8a7"/>
<polyline points="405.90,408.00 405.90,405.00 408.00,402.80 416.00,402.80" fill="none" stroke="#a6a8a7" stroke-width="4.4" stroke-linecap="butt" stroke-linejoin="round"/>
<rect x="461.00" y="402.00" width="7.00" height="3.00" fill="#a6a8a7"/>
<rect x="462.20" y="383.70" width="6.30" height="6.80" fill="#a6a8a7"/>
<circle cx="385.00" cy="414.50" r="12.50" fill="none" stroke="#a6a8a7" stroke-width="1.8"/>
<rect x="372.00" y="413.70" width="26.00" height="1.60" fill="#a6a8a7"/>
<rect x="384.20" y="402.00" width="1.60" height="25.00" fill="#a6a8a7"/>
<circle cx="385.00" cy="414.50" r="1.60" fill="#a6a8a7"/>
<rect x="362.00" y="413.00" width="10.00" height="3.00" fill="#a6a8a7"/>
<rect x="398.00" y="413.00" width="6.00" height="3.00" fill="#a6a8a7"/>
<rect x="362.50" y="416.00" width="6.00" height="6.00" fill="#a6a8a7"/>
<rect x="370.40" y="448.40" width="24.10" height="18.10" fill="#adafaf" rx="1.5"/>
<rect x="370.40" y="473.80" width="24.10" height="18.20" fill="#adafaf" rx="1.5"/>
<rect x="372.00" y="449.50" width="21.00" height="2.50" fill="#b8baba"/>
<rect x="372.00" y="475.00" width="21.00" height="2.50" fill="#b8baba"/>
<rect x="362.00" y="455.50" width="8.40" height="3.00" fill="#a6a8a7"/>
<rect x="362.00" y="481.50" width="8.40" height="3.00" fill="#a6a8a7"/>
<rect x="394.50" y="456.00" width="9.00" height="3.00" fill="#a6a8a7"/>
<rect x="394.50" y="482.00" width="9.00" height="3.00" fill="#a6a8a7"/>
<rect x="362.00" y="466.00" width="5.00" height="6.00" fill="#a6a8a7"/>
<rect x="408.30" y="439.00" width="5.70" height="6.00" fill="#a6a8a7"/>
<polygon points="422.50,443.00 446.60,443.00 461.00,458.70 461.00,481.40 444.50,495.80 424.00,495.80 408.00,478.60 408.00,458.00" fill="#a3a7a5"/>
<polygon points="446.60,443.00 461.00,458.70 461.00,481.40 450.00,491.00 442.00,477.00 442.00,452.50" fill="#8e9291"/>
<polygon points="424.00,495.80 444.50,495.80 450.00,491.00 442.00,477.00 422.50,477.00" fill="#808483"/>
<polygon points="408.00,478.60 424.00,495.80 422.50,477.00 410.00,470.00" fill="#9a9e9c"/>
<polygon points="408.00,458.00 422.50,443.00 424.00,447.00 411.00,461.00" fill="#9ca09e"/>
<rect x="436.30" y="483.50" width="13.70" height="1.80" fill="#b3b7b5"/>
<rect x="437.00" y="488.00" width="10.00" height="1.40" fill="#9a9e9c"/>
<rect x="441.50" y="452.50" width="5.50" height="1.50" fill="#6d7170"/>
<circle cx="425.30" cy="458.70" r="1.30" fill="#6b6f6e"/>
<circle cx="425.30" cy="469.70" r="1.10" fill="#7d8180"/>
<circle cx="427.00" cy="457.50" r="0.80" fill="#c4c8c6"/>
<rect x="433.50" y="438.00" width="3.00" height="5.00" fill="#a6a8a7"/>
<rect x="433.50" y="495.80" width="3.00" height="4.50" fill="#a6a8a7"/>
<circle cx="481.80" cy="316.30" r="5.70" fill="#adb1af"/>
<circle cx="481.80" cy="316.30" r="3.30" fill="none" stroke="#8a8e8c" stroke-width="1.2"/>
<circle cx="481.80" cy="316.30" r="1.30" fill="#1c1c1c"/>
<circle cx="481.80" cy="332.60" r="5.70" fill="#adb1af"/>
<circle cx="481.80" cy="332.60" r="3.30" fill="none" stroke="#8a8e8c" stroke-width="1.2"/>
<circle cx="481.80" cy="332.60" r="1.30" fill="#1c1c1c"/>
<circle cx="497.90" cy="316.30" r="5.70" fill="#adb1af"/>
<circle cx="497.90" cy="316.30" r="3.30" fill="none" stroke="#8a8e8c" stroke-width="1.2"/>
<circle cx="497.90" cy="316.30" r="1.30" fill="#1c1c1c"/>
<circle cx="497.90" cy="332.60" r="5.70" fill="#adb1af"/>
<circle cx="497.90" cy="332.60" r="3.30" fill="none" stroke="#8a8e8c" stroke-width="1.2"/>
<circle cx="497.90" cy="332.60" r="1.30" fill="#1c1c1c"/>
<rect x="473.50" y="322.80" width="5.00" height="2.80" fill="#a6a8a7"/>
<rect x="501.50" y="322.80" width="5.50" height="2.80" fill="#a6a8a7"/>
<polyline points="478.00,324.20 480.00,321.00" fill="none" stroke="#a6a8a7" stroke-width="1.6" stroke-linecap="butt" stroke-linejoin="round"/>
<polyline points="501.50,324.20 499.80,321.50" fill="none" stroke="#a6a8a7" stroke-width="1.6" stroke-linecap="butt" stroke-linejoin="round"/>
<rect x="488.80" y="306.00" width="2.20" height="5.00" fill="#a6a8a7"/>
<rect x="487.00" y="331.60" width="6.00" height="2.00" fill="#a6a8a7"/>
<polyline points="480.20,349.00 480.20,423.00" fill="none" stroke="#a6a8a7" stroke-width="2.6" stroke-linecap="butt" stroke-linejoin="round"/>
<polyline points="480.20,349.00 492.50,361.00" fill="none" stroke="#a6a8a7" stroke-width="2" stroke-linecap="butt" stroke-linejoin="round"/>
<polyline points="480.60,423.00 492.50,412.00" fill="none" stroke="#a6a8a7" stroke-width="2.2" stroke-linecap="butt" stroke-linejoin="round"/>
<rect x="481.00" y="375.00" width="8.00" height="2.00" fill="#a6a8a7"/>
<rect x="481.00" y="396.70" width="8.00" height="2.00" fill="#a6a8a7"/>
<rect x="473.50" y="358.00" width="6.50" height="3.00" fill="#a6a8a7"/>
<rect x="473.50" y="409.00" width="6.50" height="3.00" fill="#a6a8a7"/>
<polygon points="539.92,321.77 543.19,322.43 543.19,323.57 539.92,324.23" fill="#adb1af"/>
<polygon points="539.77,325.06 542.62,326.80 542.23,327.88 538.93,327.38" fill="#adb1af"/>
<polygon points="538.51,328.11 540.59,330.72 539.85,331.59 536.92,330.00" fill="#adb1af"/>
<polygon points="536.28,330.54 537.34,333.70 536.35,334.27 534.14,331.77" fill="#adb1af"/>
<polygon points="533.35,332.06 533.27,335.40 532.14,335.59 530.92,332.49" fill="#adb1af"/>
<polygon points="530.08,332.49 528.86,335.59 527.73,335.40 527.65,332.06" fill="#adb1af"/>
<polygon points="526.86,331.77 524.65,334.27 523.66,333.70 524.72,330.54" fill="#adb1af"/>
<polygon points="524.08,330.00 521.15,331.59 520.41,330.72 522.49,328.11" fill="#adb1af"/>
<polygon points="522.07,327.38 518.77,327.88 518.38,326.80 521.23,325.06" fill="#adb1af"/>
<polygon points="521.08,324.23 517.81,323.57 517.81,322.43 521.08,321.77" fill="#adb1af"/>
<polygon points="521.23,320.94 518.38,319.20 518.77,318.12 522.07,318.62" fill="#adb1af"/>
<polygon points="522.49,317.89 520.41,315.28 521.15,314.41 524.08,316.00" fill="#adb1af"/>
<polygon points="524.72,315.46 523.66,312.30 524.65,311.73 526.86,314.23" fill="#adb1af"/>
<polygon points="527.65,313.94 527.73,310.60 528.86,310.41 530.08,313.51" fill="#adb1af"/>
<polygon points="530.92,313.51 532.14,310.41 533.27,310.60 533.35,313.94" fill="#adb1af"/>
<polygon points="534.14,314.23 536.35,311.73 537.34,312.30 536.28,315.46" fill="#adb1af"/>
<polygon points="536.92,316.00 539.85,314.41 540.59,315.28 538.51,317.89" fill="#adb1af"/>
<polygon points="538.93,318.62 542.23,318.12 542.62,319.20 539.77,320.94" fill="#adb1af"/>
<circle cx="530.50" cy="323.00" r="10.60" fill="#adb1af"/>
<circle cx="530.50" cy="323.00" r="7.20" fill="none" stroke="#8f9391" stroke-width="1.1"/>
<circle cx="530.50" cy="323.00" r="4.20" fill="#b3b7b5"/>
<circle cx="530.50" cy="323.00" r="2.60" fill="none" stroke="#979b99" stroke-width="0.8"/>
<circle cx="530.50" cy="356.20" r="11.80" fill="#adb1af"/>
<circle cx="530.50" cy="356.20" r="10.00" fill="none" stroke="#b9bdbb" stroke-width="1"/>
<circle cx="530.50" cy="356.20" r="7.60" fill="none" stroke="#8f9391" stroke-width="1.2"/>
<circle cx="530.50" cy="356.20" r="4.40" fill="none" stroke="#7e8280" stroke-width="1.4"/>
<circle cx="530.50" cy="356.20" r="1.50" fill="#161616"/>
<circle cx="530.30" cy="390.20" r="11.80" fill="#adb1af"/>
<circle cx="530.30" cy="390.20" r="10.00" fill="none" stroke="#b9bdbb" stroke-width="1"/>
<circle cx="530.30" cy="390.20" r="7.60" fill="none" stroke="#8f9391" stroke-width="1.2"/>
<circle cx="530.30" cy="390.20" r="4.40" fill="none" stroke="#7e8280" stroke-width="1.4"/>
<circle cx="530.30" cy="390.20" r="1.50" fill="#161616"/>
<polygon points="539.62,421.97 542.89,422.63 542.89,423.77 539.62,424.43" fill="#adb1af"/>
<polygon points="539.47,425.26 542.32,427.00 541.93,428.08 538.63,427.58" fill="#adb1af"/>
<polygon points="538.21,428.31 540.29,430.92 539.55,431.79 536.62,430.20" fill="#adb1af"/>
<polygon points="535.98,430.74 537.04,433.90 536.05,434.47 533.84,431.97" fill="#adb1af"/>
<polygon points="533.05,432.26 532.97,435.60 531.84,435.79 530.62,432.69" fill="#adb1af"/>
<polygon points="529.78,432.69 528.56,435.79 527.43,435.60 527.35,432.26" fill="#adb1af"/>
<polygon points="526.56,431.97 524.35,434.47 523.36,433.90 524.42,430.74" fill="#adb1af"/>
<polygon points="523.78,430.20 520.85,431.79 520.11,430.92 522.19,428.31" fill="#adb1af"/>
<polygon points="521.77,427.58 518.47,428.08 518.08,427.00 520.93,425.26" fill="#adb1af"/>
<polygon points="520.78,424.43 517.51,423.77 517.51,422.63 520.78,421.97" fill="#adb1af"/>
<polygon points="520.93,421.14 518.08,419.40 518.47,418.32 521.77,418.82" fill="#adb1af"/>
<polygon points="522.19,418.09 520.11,415.48 520.85,414.61 523.78,416.20" fill="#adb1af"/>
<polygon points="524.42,415.66 523.36,412.50 524.35,411.93 526.56,414.43" fill="#adb1af"/>
<polygon points="527.35,414.14 527.43,410.80 528.56,410.61 529.78,413.71" fill="#adb1af"/>
<polygon points="530.62,413.71 531.84,410.61 532.97,410.80 533.05,414.14" fill="#adb1af"/>
<polygon points="533.84,414.43 536.05,411.93 537.04,412.50 535.98,415.66" fill="#adb1af"/>
<polygon points="536.62,416.20 539.55,414.61 540.29,415.48 538.21,418.09" fill="#adb1af"/>
<polygon points="538.63,418.82 541.93,418.32 542.32,419.40 539.47,421.14" fill="#adb1af"/>
<circle cx="530.20" cy="423.20" r="10.60" fill="#adb1af"/>
<circle cx="530.20" cy="423.20" r="7.20" fill="none" stroke="#8f9391" stroke-width="1.1"/>
<circle cx="530.20" cy="423.20" r="4.20" fill="#b3b7b5"/>
<circle cx="530.20" cy="423.20" r="2.60" fill="none" stroke="#979b99" stroke-width="0.8"/>
<rect x="512.00" y="321.70" width="7.50" height="2.60" fill="#a6a8a7"/>
<rect x="541.50" y="321.70" width="7.00" height="2.60" fill="#a6a8a7"/>
<rect x="512.00" y="354.90" width="7.50" height="2.60" fill="#a6a8a7"/>
<rect x="541.50" y="354.90" width="7.00" height="2.60" fill="#a6a8a7"/>
<rect x="512.00" y="388.90" width="7.50" height="2.60" fill="#a6a8a7"/>
<rect x="541.50" y="388.90" width="7.00" height="2.60" fill="#a6a8a7"/>
<rect x="512.00" y="421.90" width="7.50" height="2.60" fill="#a6a8a7"/>
<rect x="541.50" y="421.90" width="7.00" height="2.60" fill="#a6a8a7"/>
<rect x="542.50" y="306.50" width="5.80" height="5.50" fill="#a6a8a7"/>
<rect x="501.50" y="339.00" width="5.50" height="5.00" fill="#a6a8a7"/>
<rect x="542.70" y="371.50" width="5.60" height="5.50" fill="#a6a8a7"/>
<rect x="503.70" y="385.00" width="3.30" height="6.80" fill="#a6a8a7"/>
<rect x="542.70" y="409.00" width="5.60" height="6.00" fill="#a6a8a7"/>
<polygon points="559.00,313.50 563.50,312.00 566.50,313.00 574.00,324.00 596.00,312.50 600.00,314.00 600.50,318.00 572.00,333.00 568.00,335.00 564.50,333.50" fill="#adb1af"/>
<polyline points="574.00,326.00 598.00,316.50" fill="none" stroke="#7d7f7f" stroke-width="1" stroke-linecap="butt" stroke-linejoin="round"/>
<circle cx="575.50" cy="323.50" r="1.50" fill="#333"/>
<circle cx="562.50" cy="315.00" r="0.80" fill="#444"/>
<circle cx="597.50" cy="315.00" r="0.80" fill="#444"/>
<polygon points="599.50,344.50 595.00,343.00 592.00,344.00 584.50,355.00 562.50,343.50 558.50,345.00 558.00,349.00 586.50,364.00 590.50,366.00 594.00,364.50" fill="#adb1af"/>
<polyline points="584.50,357.00 560.50,347.50" fill="none" stroke="#7d7f7f" stroke-width="1" stroke-linecap="butt" stroke-linejoin="round"/>
<circle cx="583.00" cy="354.50" r="1.50" fill="#333"/>
<circle cx="596.00" cy="346.00" r="0.80" fill="#444"/>
<circle cx="561.00" cy="346.00" r="0.80" fill="#444"/>
<polygon points="559.00,374.00 563.50,372.50 566.50,373.50 574.00,384.50 596.00,373.00 600.00,374.50 600.50,378.50 572.00,393.50 568.00,395.50 564.50,394.00" fill="#adb1af"/>
<polyline points="574.00,386.50 598.00,377.00" fill="none" stroke="#7d7f7f" stroke-width="1" stroke-linecap="butt" stroke-linejoin="round"/>
<circle cx="575.50" cy="384.00" r="1.50" fill="#333"/>
<circle cx="562.50" cy="375.50" r="0.80" fill="#444"/>
<circle cx="597.50" cy="375.50" r="0.80" fill="#444"/>
<polygon points="599.50,404.50 595.00,403.00 592.00,404.00 584.50,415.00 562.50,403.50 558.50,405.00 558.00,409.00 586.50,424.00 590.50,426.00 594.00,424.50" fill="#adb1af"/>
<polyline points="584.50,417.00 560.50,407.50" fill="none" stroke="#7d7f7f" stroke-width="1" stroke-linecap="butt" stroke-linejoin="round"/>
<circle cx="583.00" cy="414.50" r="1.50" fill="#333"/>
<circle cx="596.00" cy="406.00" r="0.80" fill="#444"/>
<circle cx="561.00" cy="406.00" r="0.80" fill="#444"/>
<rect x="553.00" y="314.80" width="7.00" height="2.40" fill="#a6a8a7"/>
<rect x="599.00" y="314.80" width="6.00" height="2.40" fill="#a6a8a7"/>
<rect x="553.00" y="345.80" width="7.00" height="2.40" fill="#a6a8a7"/>
<rect x="599.00" y="345.80" width="6.00" height="2.40" fill="#a6a8a7"/>
<rect x="553.00" y="375.30" width="7.00" height="2.40" fill="#a6a8a7"/>
<rect x="599.00" y="375.30" width="6.00" height="2.40" fill="#a6a8a7"/>
<rect x="553.00" y="405.80" width="7.00" height="2.40" fill="#a6a8a7"/>
<rect x="599.00" y="405.80" width="6.00" height="2.40" fill="#a6a8a7"/>
<rect x="553.00" y="331.80" width="14.00" height="2.40" fill="#a6a8a7"/>
<rect x="553.00" y="362.80" width="14.00" height="2.40" fill="#a6a8a7"/>
<rect x="553.00" y="392.30" width="14.00" height="2.40" fill="#a6a8a7"/>
<rect x="553.00" y="422.80" width="14.00" height="2.40" fill="#a6a8a7"/>
<polygon points="616.00,313.50 620.50,312.00 623.50,313.00 631.00,324.00 653.00,312.50 657.00,314.00 657.50,318.00 629.00,333.00 625.00,335.00 621.50,333.50" fill="#adb1af"/>
<polyline points="631.00,326.00 655.00,316.50" fill="none" stroke="#7d7f7f" stroke-width="1" stroke-linecap="butt" stroke-linejoin="round"/>
<circle cx="632.50" cy="323.50" r="1.50" fill="#333"/>
<circle cx="619.50" cy="315.00" r="0.80" fill="#444"/>
<circle cx="654.50" cy="315.00" r="0.80" fill="#444"/>
<polygon points="656.50,344.50 652.00,343.00 649.00,344.00 641.50,355.00 619.50,343.50 615.50,345.00 615.00,349.00 643.50,364.00 647.50,366.00 651.00,364.50" fill="#adb1af"/>
<polyline points="641.50,357.00 617.50,347.50" fill="none" stroke="#7d7f7f" stroke-width="1" stroke-linecap="butt" stroke-linejoin="round"/>
<circle cx="640.00" cy="354.50" r="1.50" fill="#333"/>
<circle cx="653.00" cy="346.00" r="0.80" fill="#444"/>
<circle cx="618.00" cy="346.00" r="0.80" fill="#444"/>
<polygon points="616.00,374.00 620.50,372.50 623.50,373.50 631.00,384.50 653.00,373.00 657.00,374.50 657.50,378.50 629.00,393.50 625.00,395.50 621.50,394.00" fill="#adb1af"/>
<polyline points="631.00,386.50 655.00,377.00" fill="none" stroke="#7d7f7f" stroke-width="1" stroke-linecap="butt" stroke-linejoin="round"/>
<circle cx="632.50" cy="384.00" r="1.50" fill="#333"/>
<circle cx="619.50" cy="375.50" r="0.80" fill="#444"/>
<circle cx="654.50" cy="375.50" r="0.80" fill="#444"/>
<polygon points="656.50,404.50 652.00,403.00 649.00,404.00 641.50,415.00 619.50,403.50 615.50,405.00 615.00,409.00 643.50,424.00 647.50,426.00 651.00,424.50" fill="#adb1af"/>
<polyline points="641.50,417.00 617.50,407.50" fill="none" stroke="#7d7f7f" stroke-width="1" stroke-linecap="butt" stroke-linejoin="round"/>
<circle cx="640.00" cy="414.50" r="1.50" fill="#333"/>
<circle cx="653.00" cy="406.00" r="0.80" fill="#444"/>
<circle cx="618.00" cy="406.00" r="0.80" fill="#444"/>
<rect x="610.00" y="314.80" width="7.00" height="2.40" fill="#a6a8a7"/>
<rect x="656.00" y="314.80" width="6.00" height="2.40" fill="#a6a8a7"/>
<rect x="610.00" y="345.80" width="7.00" height="2.40" fill="#a6a8a7"/>
<rect x="656.00" y="345.80" width="6.00" height="2.40" fill="#a6a8a7"/>
<rect x="610.00" y="375.30" width="7.00" height="2.40" fill="#a6a8a7"/>
<rect x="656.00" y="375.30" width="6.00" height="2.40" fill="#a6a8a7"/>
<rect x="610.00" y="405.80" width="7.00" height="2.40" fill="#a6a8a7"/>
<rect x="656.00" y="405.80" width="6.00" height="2.40" fill="#a6a8a7"/>
<rect x="610.00" y="331.80" width="14.00" height="2.40" fill="#a6a8a7"/>
<rect x="610.00" y="362.80" width="14.00" height="2.40" fill="#a6a8a7"/>
<rect x="610.00" y="392.30" width="14.00" height="2.40" fill="#a6a8a7"/>
<rect x="610.00" y="422.80" width="14.00" height="2.40" fill="#a6a8a7"/>
<rect x="599.00" y="323.00" width="17.50" height="11.00" fill="#a6a8a7" rx="1"/>
<rect x="599.00" y="353.00" width="17.50" height="12.00" fill="#a6a8a7" rx="1"/>
<rect x="599.00" y="383.00" width="17.50" height="8.00" fill="#a6a8a7" rx="1"/>
<rect x="661.00" y="327.00" width="4.00" height="6.00" fill="#a6a8a7"/>
<rect x="661.00" y="389.00" width="4.00" height="6.00" fill="#a6a8a7"/>
<rect x="547.50" y="434.30" width="112.50" height="2.90" fill="#adb1af"/>
<rect x="547.00" y="445.00" width="113.50" height="2.80" fill="#adb1af"/>
<rect x="551.00" y="429.00" width="2.00" height="5.50" fill="#a6a8a7"/>
<rect x="606.00" y="437.00" width="3.00" height="8.00" fill="#a6a8a7"/>
<rect x="549.00" y="447.50" width="2.60" height="9.50" fill="#a6a8a7"/>
<rect x="604.00" y="447.50" width="2.60" height="9.50" fill="#a6a8a7"/>
<rect x="655.00" y="447.50" width="2.60" height="9.50" fill="#a6a8a7"/>
<rect x="598.00" y="447.00" width="8.00" height="10.00" fill="#a6a8a7"/>
<rect x="480.50" y="442.60" width="38.30" height="2.00" fill="#a6a8a7"/>
<circle cx="488.00" cy="443.60" r="2.40" fill="#adb1af"/>
<rect x="507.50" y="441.60" width="7.50" height="4.20" fill="#adb1af" rx="1.5"/>
<rect x="480.00" y="441.80" width="3.00" height="3.60" fill="#adb1af"/>
<rect x="486.50" y="446.00" width="3.70" height="11.00" fill="#a6a8a7"/>
<rect x="512.00" y="451.00" width="4.50" height="6.00" fill="#a6a8a7"/>
<polygon points="507.20,433.00 512.75,433.00 511.20,443.00 508.80,443.00" fill="#a6a8a7"/>
<rect x="473.50" y="432.00" width="3.50" height="4.00" fill="#a6a8a7"/>
<rect x="193.00" y="310.60" width="10.60" height="6.00" fill="#adb1af"/>
<rect x="193.60" y="309.20" width="9.40" height="1.80" fill="#9da1a0"/>
<rect x="195.50" y="316.60" width="6.00" height="1.80" fill="#adb1af"/>
<rect x="197.00" y="305.00" width="2.00" height="5.00" fill="#a6a8a7"/>
<rect x="181.40" y="306.00" width="6.60" height="9.70" fill="#a6a8a7"/>
<rect x="222.60" y="305.00" width="2.00" height="25.00" fill="#a6a8a7"/>
<rect x="218.60" y="312.40" width="10.00" height="2.00" fill="#a6a8a7"/>
<rect x="217.10" y="321.00" width="13.00" height="2.00" fill="#a6a8a7"/>
<rect x="242.00" y="305.00" width="2.00" height="25.00" fill="#a6a8a7"/>
<rect x="238.00" y="312.40" width="10.00" height="2.00" fill="#a6a8a7"/>
<rect x="236.50" y="321.00" width="13.00" height="2.00" fill="#a6a8a7"/>
<rect x="225.80" y="323.20" width="5.50" height="6.20" fill="#a6a8a7"/>
<rect x="234.00" y="323.20" width="6.00" height="6.20" fill="#a6a8a7"/>
<rect x="256.00" y="306.00" width="5.00" height="6.00" fill="#a6a8a7"/>
<rect x="182.50" y="343.30" width="25.00" height="2.00" fill="#a6a8a7"/>
<rect x="188.60" y="341.80" width="14.00" height="5.00" fill="#adb1af" rx="1"/>
<rect x="217.50" y="343.30" width="34.50" height="2.00" fill="#a6a8a7"/>
<rect x="222.70" y="341.80" width="14.90" height="5.00" fill="#adb1af" rx="1"/>
<rect x="196.50" y="346.00" width="3.10" height="11.00" fill="#a6a8a7"/>
<rect x="225.00" y="346.00" width="3.00" height="11.00" fill="#a6a8a7"/>
<rect x="181.00" y="350.60" width="6.00" height="6.00" fill="#a6a8a7"/>
<rect x="246.00" y="350.60" width="6.00" height="6.00" fill="#a6a8a7"/>
<rect x="181.40" y="361.00" width="6.60" height="6.50" fill="#a6a8a7"/>
<rect x="181.40" y="392.00" width="7.00" height="8.00" fill="#a6a8a7"/>
<polygon points="262.20,312.00 263.60,312.00 264.60,323.00 263.60,335.00 262.20,335.00 261.40,323.00" fill="#adb1af"/>
<rect x="264.00" y="323.00" width="44.00" height="2.20" fill="#adb1af"/>
<rect x="269.50" y="305.00" width="3.00" height="20.00" fill="#a6a8a7"/>
<rect x="292.00" y="305.00" width="3.00" height="20.00" fill="#a6a8a7"/>
<polyline points="273.00,312.50 311.50,312.50" fill="none" stroke="#a6a8a7" stroke-width="1.2" stroke-linecap="butt" stroke-linejoin="round"/>
<circle cx="281.30" cy="312.60" r="3.00" fill="none" stroke="#a6a8a7" stroke-width="2"/>
<circle cx="303.50" cy="312.60" r="3.00" fill="none" stroke="#a6a8a7" stroke-width="2"/>
<rect x="256.00" y="345.00" width="41.00" height="2.00" fill="#adb1af"/>
<rect x="266.30" y="344.00" width="3.70" height="4.00" fill="#adb1af"/>
<rect x="284.80" y="344.00" width="3.20" height="4.00" fill="#adb1af"/>
<path d="M296.6 341 H303 A4.6 4.6 0 0 1 303 350.2 H296.6 Z" fill="#adb1af"/>
<polyline points="291.00,347.00 287.50,357.00" fill="none" stroke="#a6a8a7" stroke-width="2.6" stroke-linecap="butt" stroke-linejoin="round"/>
<rect x="246.00" y="351.00" width="7.00" height="6.00" fill="#a6a8a7"/>
<polyline points="325.00,307.00 325.00,313.60 321.70,313.60 321.70,325.00 325.00,325.00 325.00,340.00 321.70,340.00 321.70,351.70 325.00,351.70 325.00,355.50" fill="none" stroke="#a6a8a7" stroke-width="1.7" stroke-linecap="butt" stroke-linejoin="round"/>
<rect x="316.40" y="329.00" width="6.60" height="5.00" fill="#a6a8a7"/>
<rect x="326.00" y="330.00" width="5.00" height="2.00" fill="#a6a8a7"/>
<circle cx="343.00" cy="328.30" r="4.80" fill="#adb1af"/>
<circle cx="343.00" cy="328.30" r="2.60" fill="none" stroke="#8e9090" stroke-width="0.8"/>
<rect x="347.50" y="327.00" width="9.50" height="2.60" fill="#a6a8a7"/>
<rect x="334.20" y="327.50" width="4.30" height="1.60" fill="#a6a8a7"/>
<circle cx="343.00" cy="347.00" r="4.80" fill="#adb1af"/>
<circle cx="343.00" cy="347.00" r="2.60" fill="none" stroke="#8e9090" stroke-width="0.8"/>
<rect x="347.50" y="345.70" width="9.50" height="2.60" fill="#a6a8a7"/>
<rect x="334.20" y="346.20" width="4.30" height="1.60" fill="#a6a8a7"/>
<rect x="351.70" y="335.60" width="5.30" height="5.40" fill="#a6a8a7"/>
<polyline points="189.50,373.00 198.50,382.00" fill="none" stroke="#adb1af" stroke-width="2.8" stroke-linecap="round" stroke-linejoin="round"/>
<polyline points="198.50,373.00 189.50,382.00" fill="none" stroke="#adb1af" stroke-width="2.8" stroke-linecap="round" stroke-linejoin="round"/>
<rect x="181.00" y="376.80" width="9.00" height="1.60" fill="#a6a8a7"/>
<rect x="217.50" y="361.00" width="3.10" height="17.00" fill="#a6a8a7"/>
<rect x="221.00" y="362.00" width="6.50" height="5.30" fill="#a6a8a7"/>
<rect x="216.50" y="376.30" width="15.00" height="6.70" fill="#adb1af" rx="0.8"/>
<rect x="221.00" y="382.50" width="10.00" height="2.80" fill="#adb1af"/>
<rect x="231.00" y="375.00" width="6.00" height="8.30" fill="#adb1af"/>
<rect x="231.50" y="367.50" width="2.10" height="19.50" fill="#adb1af"/>
<rect x="228.50" y="370.40" width="8.00" height="1.70" fill="#adb1af"/>
<circle cx="232.50" cy="368.00" r="2.00" fill="#adb1af"/>
<rect x="237.00" y="377.50" width="5.00" height="2.50" fill="#a6a8a7"/>
<polyline points="183.50,406.70 222.00,406.80 234.00,398.70 242.00,396.70" fill="none" stroke="#a6a8a7" stroke-width="2.3" stroke-linecap="butt" stroke-linejoin="round"/>
<rect x="187.50" y="404.40" width="14.00" height="4.70" fill="#adb1af" rx="2.2"/>
<rect x="207.30" y="406.00" width="2.90" height="6.00" fill="#a6a8a7"/>
<rect x="235.50" y="406.00" width="6.50" height="6.00" fill="#a6a8a7"/>
<polyline points="194.50,418.00 188.00,447.50 205.00,450.00" fill="none" stroke="#adb1af" stroke-width="2" stroke-linecap="butt" stroke-linejoin="round"/>
<rect x="190.00" y="416.00" width="9.00" height="2.60" fill="#adb1af"/>
<rect x="191.00" y="450.00" width="3.00" height="4.40" fill="#a6a8a7"/>
<rect x="219.00" y="421.50" width="12.50" height="2.10" fill="#adb1af"/>
<polyline points="225.50,416.00 225.50,423.00" fill="none" stroke="#adb1af" stroke-width="1.6" stroke-linecap="butt" stroke-linejoin="round"/>
<polyline points="225.00,423.00 228.50,449.50" fill="none" stroke="#adb1af" stroke-width="1.4" stroke-linecap="butt" stroke-linejoin="round"/>
<polyline points="229.00,423.00 229.00,449.50" fill="none" stroke="#adb1af" stroke-width="1.4" stroke-linecap="butt" stroke-linejoin="round"/>
<rect x="235.50" y="436.00" width="6.50" height="8.50" fill="#a6a8a7"/>
<rect x="229.00" y="441.00" width="7.00" height="2.00" fill="#a6a8a7"/>
<path d="M187 464 Q192 470 192.4 482 L192.4 498.5" fill="none" stroke="#adb1af" stroke-width="2.1"/>
<path d="M205 463 Q208 480 210.5 498.5" fill="none" stroke="#adb1af" stroke-width="2.1"/>
<path d="M222 463 Q225 480 226.6 498.5" fill="none" stroke="#adb1af" stroke-width="2.1"/>
<rect x="206.40" y="465.80" width="16.10" height="1.80" fill="#adb1af"/>
<rect x="212.50" y="458.00" width="2.50" height="8.00" fill="#a6a8a7"/>
<rect x="181.00" y="468.50" width="7.00" height="2.00" fill="#a6a8a7"/>
<rect x="190.50" y="488.00" width="4.00" height="7.00" fill="#adb1af"/>
<rect x="181.40" y="493.00" width="6.20" height="7.00" fill="#a6a8a7"/>
<rect x="215.80" y="493.00" width="5.80" height="7.00" fill="#a6a8a7"/>
<rect x="252.7" y="366.7" width="11.200000000000022" height="24.5" fill="none" stroke="#adb1af" stroke-width="1.5"/>
<rect x="257.30" y="361.00" width="2.00" height="5.50" fill="#a6a8a7"/>
<rect x="274.7" y="366.7" width="11.6" height="24.5" fill="none" stroke="#adb1af" stroke-width="1.5"/>
<rect x="279.50" y="361.00" width="2.00" height="5.50" fill="#a6a8a7"/>
<rect x="266.00" y="361.00" width="5.00" height="6.00" fill="#a6a8a7"/>
<rect x="246.00" y="399.50" width="46.00" height="3.60" fill="#a6a8a7"/>
<rect x="251.50" y="402.90" width="35.00" height="7.20" fill="#a6a8a7"/>
<path d="M252.20000000000002 410.5 V409.5 A5.1 5.8 0 0 1 262.40000000000003 409.5 V410.5 Z" fill="#000"/>
<path d="M263.7 410.5 V409.5 A5.1 5.8 0 0 1 273.90000000000003 409.5 V410.5 Z" fill="#000"/>
<path d="M275.2 410.5 V409.5 A5.1 5.8 0 0 1 285.40000000000003 409.5 V410.5 Z" fill="#000"/>
<rect x="246.00" y="412.30" width="46.00" height="3.60" fill="#a6a8a7"/>
<rect x="251.50" y="415.70" width="35.00" height="7.20" fill="#a6a8a7"/>
<path d="M252.20000000000002 423.3 V422.3 A5.1 5.8 0 0 1 262.40000000000003 422.3 V423.3 Z" fill="#000"/>
<path d="M263.7 423.3 V422.3 A5.1 5.8 0 0 1 273.90000000000003 422.3 V423.3 Z" fill="#000"/>
<path d="M275.2 423.3 V422.3 A5.1 5.8 0 0 1 285.40000000000003 422.3 V423.3 Z" fill="#000"/>
<rect x="246.00" y="425.10" width="46.00" height="3.60" fill="#a6a8a7"/>
<rect x="251.50" y="428.50" width="35.00" height="7.20" fill="#a6a8a7"/>
<path d="M252.20000000000002 436.1 V435.1 A5.1 5.8 0 0 1 262.40000000000003 435.1 V436.1 Z" fill="#000"/>
<path d="M263.7 436.1 V435.1 A5.1 5.8 0 0 1 273.90000000000003 435.1 V436.1 Z" fill="#000"/>
<path d="M275.2 436.1 V435.1 A5.1 5.8 0 0 1 285.40000000000003 435.1 V436.1 Z" fill="#000"/>
<rect x="246.00" y="437.90" width="46.00" height="3.60" fill="#a6a8a7"/>
<rect x="251.50" y="441.30" width="35.00" height="7.20" fill="#a6a8a7"/>
<path d="M252.20000000000002 448.9 V447.9 A5.1 5.8 0 0 1 262.40000000000003 447.9 V448.9 Z" fill="#000"/>
<path d="M263.7 448.9 V447.9 A5.1 5.8 0 0 1 273.90000000000003 447.9 V448.9 Z" fill="#000"/>
<path d="M275.2 448.9 V447.9 A5.1 5.8 0 0 1 285.40000000000003 447.9 V448.9 Z" fill="#000"/>
<rect x="246.00" y="450.70" width="46.00" height="3.60" fill="#a6a8a7"/>
<rect x="251.50" y="454.10" width="35.00" height="7.20" fill="#a6a8a7"/>
<path d="M252.20000000000002 461.7 V460.7 A5.1 5.8 0 0 1 262.40000000000003 460.7 V461.7 Z" fill="#000"/>
<path d="M263.7 461.7 V460.7 A5.1 5.8 0 0 1 273.90000000000003 460.7 V461.7 Z" fill="#000"/>
<path d="M275.2 461.7 V460.7 A5.1 5.8 0 0 1 285.40000000000003 460.7 V461.7 Z" fill="#000"/>
<rect x="246.00" y="463.50" width="46.00" height="3.60" fill="#a6a8a7"/>
<rect x="251.50" y="466.90" width="35.00" height="7.20" fill="#a6a8a7"/>
<path d="M252.20000000000002 474.5 V473.5 A5.1 5.8 0 0 1 262.40000000000003 473.5 V474.5 Z" fill="#000"/>
<path d="M263.7 474.5 V473.5 A5.1 5.8 0 0 1 273.90000000000003 473.5 V474.5 Z" fill="#000"/>
<path d="M275.2 474.5 V473.5 A5.1 5.8 0 0 1 285.40000000000003 473.5 V474.5 Z" fill="#000"/>
<rect x="246.00" y="476.30" width="46.00" height="3.60" fill="#a6a8a7"/>
<rect x="251.50" y="479.70" width="35.00" height="7.20" fill="#a6a8a7"/>
<path d="M252.20000000000002 487.3 V486.3 A5.1 5.8 0 0 1 262.40000000000003 486.3 V487.3 Z" fill="#000"/>
<path d="M263.7 487.3 V486.3 A5.1 5.8 0 0 1 273.90000000000003 486.3 V487.3 Z" fill="#000"/>
<path d="M275.2 487.3 V486.3 A5.1 5.8 0 0 1 285.40000000000003 486.3 V487.3 Z" fill="#000"/>
<rect x="246.00" y="489.10" width="46.00" height="3.60" fill="#a6a8a7"/>
<rect x="251.50" y="492.50" width="35.00" height="7.20" fill="#a6a8a7"/>
<path d="M252.20000000000002 500.1 V499.1 A5.1 5.8 0 0 1 262.40000000000003 499.1 V500.1 Z" fill="#000"/>
<path d="M263.7 500.1 V499.1 A5.1 5.8 0 0 1 273.90000000000003 499.1 V500.1 Z" fill="#000"/>
<path d="M275.2 500.1 V499.1 A5.1 5.8 0 0 1 285.40000000000003 499.1 V500.1 Z" fill="#000"/>
<rect x="246.50" y="428.00" width="4.00" height="8.00" fill="#a6a8a7"/>
<path d="M302 372.4 Q303 371.5 306 371.5 H343 Q350 372.0 353.5 374.2 V375.8 Q350 378.0 343 378.5 H306 Q303 378.5 302 377.6 Z" fill="url(#sg0)"/>
<rect x="353.00" y="374.20" width="4.00" height="1.60" fill="#a6a8a7"/>
<rect x="296.00" y="374.20" width="6.00" height="1.60" fill="#a6a8a7"/>
<rect x="296.00" y="379.50" width="9.00" height="4.00" fill="#a6a8a7"/>
<path d="M302 385.34999999999997 Q303 384.45 306 384.45 H343 Q350 384.95 353.5 387.15 V388.75 Q350 390.95 343 391.45 H306 Q303 391.45 302 390.55 Z" fill="url(#sg1)"/>
<rect x="353.00" y="387.15" width="4.00" height="1.60" fill="#a6a8a7"/>
<rect x="296.00" y="387.15" width="6.00" height="1.60" fill="#a6a8a7"/>
<path d="M302 398.29999999999995 Q303 397.4 306 397.4 H343 Q350 397.9 353.5 400.09999999999997 V401.7 Q350 403.9 343 404.4 H306 Q303 404.4 302 403.5 Z" fill="url(#sg2)"/>
<rect x="353.00" y="400.10" width="4.00" height="1.60" fill="#a6a8a7"/>
<rect x="296.00" y="400.10" width="6.00" height="1.60" fill="#a6a8a7"/>
<rect x="296.00" y="405.40" width="9.00" height="4.00" fill="#a6a8a7"/>
<path d="M302 411.25 Q303 410.35 306 410.35 H343 Q350 410.85 353.5 413.05 V414.65000000000003 Q350 416.85 343 417.35 H306 Q303 417.35 302 416.45000000000005 Z" fill="url(#sg3)"/>
<rect x="353.00" y="413.05" width="4.00" height="1.60" fill="#a6a8a7"/>
<rect x="296.00" y="413.05" width="6.00" height="1.60" fill="#a6a8a7"/>
<path d="M302 424.2 Q303 423.3 306 423.3 H343 Q350 423.8 353.5 426.0 V427.6 Q350 429.8 343 430.3 H306 Q303 430.3 302 429.40000000000003 Z" fill="url(#sg4)"/>
<rect x="353.00" y="426.00" width="4.00" height="1.60" fill="#a6a8a7"/>
<rect x="296.00" y="426.00" width="6.00" height="1.60" fill="#a6a8a7"/>
<rect x="296.00" y="431.30" width="9.00" height="4.00" fill="#a6a8a7"/>
<path d="M302 437.15 Q303 436.25 306 436.25 H343 Q350 436.75 353.5 438.95 V440.55 Q350 442.75 343 443.25 H306 Q303 443.25 302 442.35 Z" fill="url(#sg5)"/>
<rect x="353.00" y="438.95" width="4.00" height="1.60" fill="#a6a8a7"/>
<rect x="296.00" y="438.95" width="6.00" height="1.60" fill="#a6a8a7"/>
<path d="M302 450.09999999999997 Q303 449.2 306 449.2 H343 Q350 449.7 353.5 451.9 V453.5 Q350 455.7 343 456.2 H306 Q303 456.2 302 455.3 Z" fill="url(#sg6)"/>
<rect x="353.00" y="451.90" width="4.00" height="1.60" fill="#a6a8a7"/>
<rect x="296.00" y="451.90" width="6.00" height="1.60" fill="#a6a8a7"/>
<rect x="296.00" y="457.20" width="9.00" height="4.00" fill="#a6a8a7"/>
<path d="M302 463.04999999999995 Q303 462.15 306 462.15 H343 Q350 462.65 353.5 464.84999999999997 V466.45 Q350 468.65 343 469.15 H306 Q303 469.15 302 468.25 Z" fill="url(#sg7)"/>
<rect x="353.00" y="464.85" width="4.00" height="1.60" fill="#a6a8a7"/>
<rect x="296.00" y="464.85" width="6.00" height="1.60" fill="#a6a8a7"/>
<path d="M302 476.0 Q303 475.1 306 475.1 H343 Q350 475.6 353.5 477.8 V479.40000000000003 Q350 481.6 343 482.1 H306 Q303 482.1 302 481.20000000000005 Z" fill="url(#sg8)"/>
<rect x="353.00" y="477.80" width="4.00" height="1.60" fill="#a6a8a7"/>
<rect x="296.00" y="477.80" width="6.00" height="1.60" fill="#a6a8a7"/>
<rect x="296.00" y="483.10" width="9.00" height="4.00" fill="#a6a8a7"/>
<path d="M302 488.95 Q303 488.05 306 488.05 H343 Q350 488.55 353.5 490.75 V492.35 Q350 494.55 343 495.05 H306 Q303 495.05 302 494.15000000000003 Z" fill="url(#sg9)"/>
<rect x="353.00" y="490.75" width="4.00" height="1.60" fill="#a6a8a7"/>
<rect x="296.00" y="490.75" width="6.00" height="1.60" fill="#a6a8a7"/>
<rect x="296.00" y="362.00" width="6.00" height="6.00" fill="#a6a8a7"/>
</g>
</svg>
</body></html>
